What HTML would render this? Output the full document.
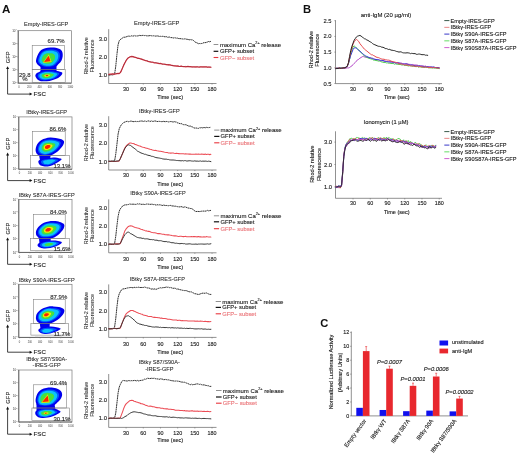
<!DOCTYPE html><html><head><meta charset="utf-8"><style>html,body{margin:0;padding:0;background:#fff;overflow:hidden}svg{display:block;will-change:transform}</style></head><body><svg width="520" height="455" viewBox="0 0 520 455" font-family='"Liberation Sans", sans-serif'>
<defs><filter id="bl" x="-10%" y="-10%" width="120%" height="120%"><feGaussianBlur stdDeviation="0.35"/></filter></defs>
<rect width="520" height="455" fill="#fff"/>
<text x="1.9" y="12.7" font-size="11.6" font-weight="bold" fill="#111">A</text>
<text x="156.6" y="25.47" font-size="5.75" text-anchor="middle" fill="#222" stroke="#222" stroke-width="0.05" >Empty-IRES-GFP</text>
<line x1="108.7" y1="29.2" x2="108.7" y2="83.5" stroke="#555" stroke-width="0.65" />
<line x1="108.7" y1="83.5" x2="216.5" y2="83.5" stroke="#555" stroke-width="0.65" />
<line x1="126.09" y1="83.5" x2="126.09" y2="84.6" stroke="#555" stroke-width="0.5" />
<text x="126.09" y="90.84" font-size="5.4" text-anchor="middle" fill="#1a1a1a" stroke="#1a1a1a" stroke-width="0.12" >30</text>
<line x1="143.28" y1="83.5" x2="143.28" y2="84.6" stroke="#555" stroke-width="0.5" />
<text x="143.28" y="90.84" font-size="5.4" text-anchor="middle" fill="#1a1a1a" stroke="#1a1a1a" stroke-width="0.12" >60</text>
<line x1="160.47" y1="83.5" x2="160.47" y2="84.6" stroke="#555" stroke-width="0.5" />
<text x="160.47" y="90.84" font-size="5.4" text-anchor="middle" fill="#1a1a1a" stroke="#1a1a1a" stroke-width="0.12" >90</text>
<line x1="177.66" y1="83.5" x2="177.66" y2="84.6" stroke="#555" stroke-width="0.5" />
<text x="177.66" y="90.84" font-size="5.4" text-anchor="middle" fill="#1a1a1a" stroke="#1a1a1a" stroke-width="0.12" >120</text>
<line x1="194.85" y1="83.5" x2="194.85" y2="84.6" stroke="#555" stroke-width="0.5" />
<text x="194.85" y="90.84" font-size="5.4" text-anchor="middle" fill="#1a1a1a" stroke="#1a1a1a" stroke-width="0.12" >150</text>
<line x1="212.04" y1="83.5" x2="212.04" y2="84.6" stroke="#555" stroke-width="0.5" />
<text x="212.04" y="90.84" font-size="5.4" text-anchor="middle" fill="#1a1a1a" stroke="#1a1a1a" stroke-width="0.12" >180</text>
<text x="107" y="77.02" font-size="5.9" text-anchor="end" fill="#1a1a1a" stroke="#1a1a1a" stroke-width="0.12" >1.0</text>
<text x="107" y="58.77" font-size="5.9" text-anchor="end" fill="#1a1a1a" stroke="#1a1a1a" stroke-width="0.12" >2.0</text>
<text x="107" y="40.52" font-size="5.9" text-anchor="end" fill="#1a1a1a" stroke="#1a1a1a" stroke-width="0.12" >3.0</text>
<text x="170.2" y="98.88" font-size="5.5" text-anchor="middle" fill="#1a1a1a" stroke="#1a1a1a" stroke-width="0.12" >Time (sec)</text>
<text transform="translate(86.2,55.95) rotate(-90)" y="1.98" font-size="5.5" text-anchor="middle" fill="#333" stroke="#333" stroke-width="0.08">Rhod-2 relative</text>
<text transform="translate(92.4,55.95) rotate(-90)" y="1.98" font-size="5.5" text-anchor="middle" fill="#333" stroke="#333" stroke-width="0.08">Fluorescence</text>
<polyline points="108.9,75.03 110.05,75.09 111.19,74.68 112.34,75.04 113.48,74.61 114.63,74 115.78,66.05 116.92,54.45 118.07,44.8 119.21,40.76 120.36,39.53 121.51,38.7 122.65,37.9 123.8,37.13 124.94,37.27 126.09,36.92 127.24,36.45 128.38,36.09 129.53,36.23 130.67,36.24 131.82,35.71 132.97,36.29 134.11,35.6 135.26,35.93 136.4,35.97 137.55,35.92 138.7,35.73 139.84,35.32 140.99,35.75 142.13,35.43 143.28,35.38 144.43,35.57 145.57,35.46 146.72,35.83 147.86,35.87 149.01,35.8 150.16,35.51 151.3,35.75 152.45,35.9 153.59,35.78 154.74,35.95 155.89,36.15 157.03,35.87 158.18,36.03 159.32,36.46 160.47,36.31 161.62,36.45 162.76,36.29 163.91,36.49 165.05,36.91 166.2,36.51 167.35,37.26 168.49,37.17 169.64,37.07 170.78,37.66 171.93,37.58 173.08,38.07 174.22,37.78 175.37,37.87 176.51,38.18 177.66,38.12 178.81,38.68 179.95,38.55 181.1,38.76 182.24,38.89 183.39,39.08 184.54,38.89 185.68,38.9 186.83,39.34 187.97,39.31 189.12,39.89 190.27,39.58 191.41,39.82 192.56,39.87 193.7,40.67 194.85,41.88 196,42.5 197.14,42.87 198.29,43.79 199.43,43.52 200.58,43.62 201.73,43.45 202.87,43.24 204.02,42.46 205.16,42.69 206.31,42.38 207.46,42.04 208.6,41.46 209.75,41.8 210.89,41.29" fill="none" stroke="#333" stroke-width="1.0" stroke-linejoin="round" stroke-linecap="round" stroke-dasharray="1.1 1.2" stroke-linecap="butt"/>
<polyline points="108.9,74.33 110.05,74.1 111.19,74.05 112.34,73.97 113.48,74.16 114.63,74.03 115.78,73.96 116.92,73.62 118.07,73.44 119.21,73.6 120.36,72.62 121.51,70.38 122.65,67.62 123.8,64.89 124.94,62.73 126.09,60.7 127.24,58.98 128.38,57.79 129.53,57.19 130.67,56.71 131.82,56.46 132.97,56.72 134.11,57.07 135.26,57.37 136.4,57.7 137.55,58.31 138.7,58.24 139.84,58.63 140.99,58.93 142.13,59.32 143.28,59.86 144.43,60.21 145.57,60.69 146.72,60.79 147.86,61.35 149.01,61.64 150.16,61.83 151.3,62.09 152.45,62.25 153.59,62.6 154.74,62.84 155.89,62.99 157.03,63.21 158.18,63.29 159.32,63.63 160.47,63.44 161.62,63.74 162.76,64.12 163.91,64.25 165.05,64.38 166.2,64.55 167.35,64.83 168.49,64.69 169.64,64.81 170.78,65.21 171.93,65.38 173.08,65.72 174.22,65.87 175.37,65.91 176.51,66.08 177.66,65.95 178.81,66.35 179.95,66.5 181.1,66.16 182.24,66.41 183.39,66.63 184.54,66.52 185.68,66.79 186.83,66.62 187.97,66.47 189.12,66.56 190.27,66.67 191.41,66.9 192.56,66.88 193.7,66.99 194.85,66.75 196,66.87 197.14,66.78 198.29,67 199.43,67.06 200.58,66.81 201.73,66.75 202.87,66.82 204.02,66.85 205.16,66.85 206.31,66.9 207.46,67.13 208.6,67.02 209.75,67.1 210.89,67.25" fill="none" stroke="#e24450" stroke-width="1.25" stroke-linejoin="round" stroke-linecap="round" />
<polyline points="108.9,74.56 110.05,74.36 111.19,74.3 112.34,74.04 113.48,73.86 114.63,74.01 115.78,73.71 116.92,73.57 118.07,73.44 119.21,73.51 120.36,72.6 121.51,70.38 122.65,67.63 123.8,65.01 124.94,62.72 126.09,60.42 127.24,58.61 128.38,57.76 129.53,57.07 130.67,56.6 131.82,56.84 132.97,56.74 134.11,56.9 135.26,57.29 136.4,57.67 137.55,58.12 138.7,58.56 139.84,58.62 140.99,59.17 142.13,59.32 143.28,59.6 144.43,60.21 145.57,60.56 146.72,60.65 147.86,61.06 149.01,61.59 150.16,61.87 151.3,62.1 152.45,62 153.59,62.27 154.74,62.78 155.89,62.69 157.03,62.82 158.18,63.16 159.32,63.49 160.47,63.59 161.62,63.95 162.76,64.18 163.91,63.94 165.05,64.25 166.2,64.48 167.35,64.48 168.49,64.87 169.64,64.86 170.78,65.06 171.93,65.5 173.08,65.64 174.22,65.78 175.37,65.95 176.51,65.94 177.66,66.2 178.81,66.23 179.95,66.45 181.1,66.18 182.24,66.48 183.39,66.5 184.54,66.5 185.68,66.41 186.83,66.67 187.97,66.5 189.12,66.72 190.27,66.75 191.41,66.78 192.56,67.03 193.7,66.87 194.85,67.01 196,67.11 197.14,66.77 198.29,67.06 199.43,66.95 200.58,66.85 201.73,66.94 202.87,67.05 204.02,66.97 205.16,66.97 206.31,66.88 207.46,67.19 208.6,67 209.75,67.14 210.89,67.14" fill="none" stroke="#8a1a28" stroke-width="0.6" stroke-linejoin="round" stroke-linecap="round" />
<line x1="213.6" y1="44.5" x2="218.3" y2="44.5" stroke="#444" stroke-width="0.6" />
<text x="220" y="46.66" font-size="6.0" text-anchor="start" fill="#1a1a1a" stroke="#1a1a1a" stroke-width="0.12" >maximum Ca<tspan font-size="3.8" dy="-2.6">2+</tspan><tspan dy="2.6"> release</tspan></text>
<line x1="213.6" y1="51.3" x2="218.3" y2="51.3" stroke="#111" stroke-width="1.2" />
<text x="220" y="53.39" font-size="5.8" text-anchor="start" fill="#1a1a1a" stroke="#1a1a1a" stroke-width="0.12" >GFP+ subset</text>
<line x1="213.6" y1="57.5" x2="218.3" y2="57.5" stroke="#e8363c" stroke-width="1.1" />
<text x="220" y="59.59" font-size="5.8" text-anchor="start" fill="#ea7478" stroke="#ea7478" stroke-width="0.12" >GFP&#8722; subset</text>
<text x="159.3" y="113.12" font-size="5.6" text-anchor="middle" fill="#222" stroke="#222" stroke-width="0.05" >IBtk&#947;-IRES-GFP</text>
<line x1="108.7" y1="116.2" x2="108.7" y2="170" stroke="#555" stroke-width="0.65" />
<line x1="108.7" y1="170" x2="216.5" y2="170" stroke="#555" stroke-width="0.65" />
<line x1="126.09" y1="170" x2="126.09" y2="171.1" stroke="#555" stroke-width="0.5" />
<text x="126.09" y="177.34" font-size="5.4" text-anchor="middle" fill="#1a1a1a" stroke="#1a1a1a" stroke-width="0.12" >30</text>
<line x1="143.28" y1="170" x2="143.28" y2="171.1" stroke="#555" stroke-width="0.5" />
<text x="143.28" y="177.34" font-size="5.4" text-anchor="middle" fill="#1a1a1a" stroke="#1a1a1a" stroke-width="0.12" >60</text>
<line x1="160.47" y1="170" x2="160.47" y2="171.1" stroke="#555" stroke-width="0.5" />
<text x="160.47" y="177.34" font-size="5.4" text-anchor="middle" fill="#1a1a1a" stroke="#1a1a1a" stroke-width="0.12" >90</text>
<line x1="177.66" y1="170" x2="177.66" y2="171.1" stroke="#555" stroke-width="0.5" />
<text x="177.66" y="177.34" font-size="5.4" text-anchor="middle" fill="#1a1a1a" stroke="#1a1a1a" stroke-width="0.12" >120</text>
<line x1="194.85" y1="170" x2="194.85" y2="171.1" stroke="#555" stroke-width="0.5" />
<text x="194.85" y="177.34" font-size="5.4" text-anchor="middle" fill="#1a1a1a" stroke="#1a1a1a" stroke-width="0.12" >150</text>
<line x1="212.04" y1="170" x2="212.04" y2="171.1" stroke="#555" stroke-width="0.5" />
<text x="212.04" y="177.34" font-size="5.4" text-anchor="middle" fill="#1a1a1a" stroke="#1a1a1a" stroke-width="0.12" >180</text>
<text x="107" y="163.52" font-size="5.9" text-anchor="end" fill="#1a1a1a" stroke="#1a1a1a" stroke-width="0.12" >1.0</text>
<text x="107" y="145.27" font-size="5.9" text-anchor="end" fill="#1a1a1a" stroke="#1a1a1a" stroke-width="0.12" >2.0</text>
<text x="107" y="127.02" font-size="5.9" text-anchor="end" fill="#1a1a1a" stroke="#1a1a1a" stroke-width="0.12" >3.0</text>
<text x="170.2" y="185.98" font-size="5.5" text-anchor="middle" fill="#1a1a1a" stroke="#1a1a1a" stroke-width="0.12" >Time (sec)</text>
<text transform="translate(86.2,142.7) rotate(-90)" y="1.98" font-size="5.5" text-anchor="middle" fill="#333" stroke="#333" stroke-width="0.08">Rhod-2 relative</text>
<text transform="translate(92.4,142.7) rotate(-90)" y="1.98" font-size="5.5" text-anchor="middle" fill="#333" stroke="#333" stroke-width="0.08">Fluorescence</text>
<polyline points="108.9,161.2 110.05,161.34 111.19,161.25 112.34,161.06 113.48,160.85 114.63,160.77 115.78,153.98 116.92,144.33 118.07,134.14 119.21,128.91 120.36,126.41 121.51,124.54 122.65,123.46 123.8,122.43 124.94,122.04 126.09,121.52 127.24,121.29 128.38,121.73 129.53,121.46 130.67,121.14 131.82,121.17 132.97,121.65 134.11,121.63 135.26,121.37 136.4,121.62 137.55,121.48 138.7,121.59 139.84,121.14 140.99,121.05 142.13,120.96 143.28,121.5 144.43,121.09 145.57,121.14 146.72,121.52 147.86,120.98 149.01,120.92 150.16,121.48 151.3,120.95 152.45,121.36 153.59,121.31 154.74,120.95 155.89,121.08 157.03,121.59 158.18,121.41 159.32,121.36 160.47,121.51 161.62,121.63 162.76,121.56 163.91,121.29 165.05,121.83 166.2,121.46 167.35,121.57 168.49,121.91 169.64,121.71 170.78,121.52 171.93,121.67 173.08,122.11 174.22,121.6 175.37,121.95 176.51,122.06 177.66,122.97 178.81,123.16 179.95,123.65 181.1,123.44 182.24,124.16 183.39,124.61 184.54,124.74 185.68,124.71 186.83,125.1 187.97,125.81 189.12,126.21 190.27,126.01 191.41,126.67 192.56,126.97 193.7,127.78 194.85,128.12 196,127.9 197.14,128.22 198.29,128.48 199.43,127.76 200.58,127.84 201.73,127.57 202.87,127.97 204.02,127.36 205.16,127.9 206.31,127.29 207.46,127.56 208.6,127.63 209.75,127.45 210.89,127.16" fill="none" stroke="#333" stroke-width="1.0" stroke-linejoin="round" stroke-linecap="round" stroke-dasharray="1.1 1.2" stroke-linecap="butt"/>
<polyline points="108.9,161.5 110.05,161.53 111.19,161.32 112.34,161.43 113.48,161.46 114.63,161.41 115.78,161.42 116.92,161.3 118.07,161.18 119.21,160.89 120.36,158.54 121.51,156.02 122.65,153.28 123.8,150.48 124.94,147.75 126.09,146.1 127.24,144.85 128.38,143.98 129.53,143.03 130.67,142.95 131.82,143.28 132.97,143.48 134.11,143.73 135.26,144.59 136.4,144.77 137.55,145.37 138.7,145.72 139.84,145.97 140.99,146.56 142.13,146.9 143.28,147.21 144.43,147.45 145.57,148.09 146.72,148.22 147.86,148.58 149.01,148.9 150.16,149.28 151.3,149.58 152.45,149.97 153.59,150.18 154.74,150.45 155.89,150.39 157.03,150.83 158.18,151.09 159.32,151.34 160.47,151.21 161.62,151.41 162.76,151.7 163.91,152.08 165.05,152.31 166.2,152.48 167.35,152.6 168.49,152.9 169.64,152.93 170.78,153.14 171.93,152.94 173.08,153.02 174.22,153.28 175.37,153.48 176.51,153.23 177.66,153.58 178.81,153.61 179.95,153.82 181.1,153.71 182.24,153.71 183.39,153.74 184.54,153.92 185.68,153.82 186.83,154.08 187.97,154 189.12,154.12 190.27,154.01 191.41,154.2 192.56,154.24 193.7,154.15 194.85,154.22 196,154.09 197.14,154.15 198.29,154.08 199.43,154.15 200.58,154.15 201.73,154.1 202.87,154.34 204.02,154.39 205.16,154.12 206.31,154.51 207.46,154.28 208.6,154.34 209.75,154.63 210.89,154.31" fill="none" stroke="#ec4c55" stroke-width="1.05" stroke-linejoin="round" stroke-linecap="round" />
<polyline points="108.9,161.23 110.05,161.31 111.19,161.23 112.34,161.18 113.48,161.45 114.63,161.25 115.78,161.22 116.92,161.02 118.07,160.96 119.21,160.66 120.36,158.6 121.51,155.75 122.65,153.31 123.8,150.54 124.94,148.26 126.09,146.64 127.24,145.49 128.38,144.85 129.53,145.2 130.67,145.5 131.82,146.47 132.97,147.36 134.11,148.2 135.26,149.02 136.4,150.04 137.55,151.18 138.7,151.68 139.84,152.35 140.99,152.94 142.13,153.36 143.28,153.68 144.43,154.28 145.57,154.31 146.72,154.83 147.86,155.23 149.01,155.48 150.16,155.64 151.3,156.24 152.45,156.38 153.59,156.64 154.74,157.19 155.89,157.54 157.03,157.76 158.18,157.9 159.32,158.07 160.47,158.34 161.62,158.51 162.76,158.93 163.91,159.07 165.05,159.18 166.2,159.11 167.35,159.45 168.49,159.48 169.64,159.86 170.78,159.98 171.93,160.03 173.08,159.99 174.22,160.12 175.37,160.25 176.51,160.53 177.66,160.53 178.81,160.63 179.95,160.68 181.1,160.88 182.24,160.58 183.39,160.92 184.54,160.61 185.68,160.66 186.83,161.08 187.97,160.91 189.12,160.78 190.27,160.74 191.41,160.99 192.56,161.09 193.7,161.14 194.85,160.84 196,161.19 197.14,161.05 198.29,161.27 199.43,161.13 200.58,160.97 201.73,161.35 202.87,161.07 204.02,161.23 205.16,161.09 206.31,161.2 207.46,161.43 208.6,161.16 209.75,161.37 210.89,161.6" fill="none" stroke="#2e2e2e" stroke-width="0.95" stroke-linejoin="round" stroke-linecap="round" />
<line x1="214.2" y1="130.1" x2="219.4" y2="130.1" stroke="#444" stroke-width="0.6" />
<text x="220.6" y="132.26" font-size="6.0" text-anchor="start" fill="#1a1a1a" stroke="#1a1a1a" stroke-width="0.12" >maximum Ca<tspan font-size="3.8" dy="-2.6">2+</tspan><tspan dy="2.6"> release</tspan></text>
<line x1="214.2" y1="136.4" x2="219.4" y2="136.4" stroke="#111" stroke-width="1.2" />
<text x="220.6" y="138.49" font-size="5.8" text-anchor="start" fill="#1a1a1a" stroke="#1a1a1a" stroke-width="0.12" >GFP+ subset</text>
<line x1="214.2" y1="142.8" x2="219.4" y2="142.8" stroke="#e8363c" stroke-width="1.1" />
<text x="220.6" y="144.89" font-size="5.8" text-anchor="start" fill="#ea7478" stroke="#ea7478" stroke-width="0.12" >GFP&#8722; subset</text>
<text x="157.9" y="195.4" font-size="5.55" text-anchor="middle" fill="#222" stroke="#222" stroke-width="0.05" >IBtk&#947; S90A-IRES-GFP</text>
<line x1="108.7" y1="199.4" x2="108.7" y2="252.8" stroke="#555" stroke-width="0.65" />
<line x1="108.7" y1="252.8" x2="216.5" y2="252.8" stroke="#555" stroke-width="0.65" />
<line x1="126.09" y1="252.8" x2="126.09" y2="253.9" stroke="#555" stroke-width="0.5" />
<text x="126.09" y="260.64" font-size="5.4" text-anchor="middle" fill="#1a1a1a" stroke="#1a1a1a" stroke-width="0.12" >30</text>
<line x1="143.28" y1="252.8" x2="143.28" y2="253.9" stroke="#555" stroke-width="0.5" />
<text x="143.28" y="260.64" font-size="5.4" text-anchor="middle" fill="#1a1a1a" stroke="#1a1a1a" stroke-width="0.12" >60</text>
<line x1="160.47" y1="252.8" x2="160.47" y2="253.9" stroke="#555" stroke-width="0.5" />
<text x="160.47" y="260.64" font-size="5.4" text-anchor="middle" fill="#1a1a1a" stroke="#1a1a1a" stroke-width="0.12" >90</text>
<line x1="177.66" y1="252.8" x2="177.66" y2="253.9" stroke="#555" stroke-width="0.5" />
<text x="177.66" y="260.64" font-size="5.4" text-anchor="middle" fill="#1a1a1a" stroke="#1a1a1a" stroke-width="0.12" >120</text>
<line x1="194.85" y1="252.8" x2="194.85" y2="253.9" stroke="#555" stroke-width="0.5" />
<text x="194.85" y="260.64" font-size="5.4" text-anchor="middle" fill="#1a1a1a" stroke="#1a1a1a" stroke-width="0.12" >150</text>
<line x1="212.04" y1="252.8" x2="212.04" y2="253.9" stroke="#555" stroke-width="0.5" />
<text x="212.04" y="260.64" font-size="5.4" text-anchor="middle" fill="#1a1a1a" stroke="#1a1a1a" stroke-width="0.12" >180</text>
<text x="107" y="246.32" font-size="5.9" text-anchor="end" fill="#1a1a1a" stroke="#1a1a1a" stroke-width="0.12" >1.0</text>
<text x="107" y="228.07" font-size="5.9" text-anchor="end" fill="#1a1a1a" stroke="#1a1a1a" stroke-width="0.12" >2.0</text>
<text x="107" y="209.82" font-size="5.9" text-anchor="end" fill="#1a1a1a" stroke="#1a1a1a" stroke-width="0.12" >3.0</text>
<text x="170.2" y="269.48" font-size="5.5" text-anchor="middle" fill="#1a1a1a" stroke="#1a1a1a" stroke-width="0.12" >Time (sec)</text>
<text transform="translate(86.2,225.7) rotate(-90)" y="1.98" font-size="5.5" text-anchor="middle" fill="#333" stroke="#333" stroke-width="0.08">Rhod-2 relative</text>
<text transform="translate(92.4,225.7) rotate(-90)" y="1.98" font-size="5.5" text-anchor="middle" fill="#333" stroke="#333" stroke-width="0.08">Fluorescence</text>
<polyline points="108.9,244.56 110.05,244.15 111.19,244.13 112.34,244.19 113.48,244.21 114.63,243.31 115.78,236.14 116.92,225.79 118.07,216.55 119.21,211.31 120.36,208.73 121.51,207.52 122.65,205.89 123.8,205.42 124.94,204.8 126.09,204.91 127.24,204.66 128.38,204.53 129.53,203.98 130.67,204.18 131.82,204.27 132.97,204.17 134.11,204.24 135.26,204.38 136.4,204.34 137.55,203.82 138.7,204.24 139.84,203.79 140.99,204.33 142.13,204.35 143.28,204.21 144.43,204.48 145.57,204.38 146.72,204 147.86,204.09 149.01,204.19 150.16,204.37 151.3,204.22 152.45,204.26 153.59,204.6 154.74,204.53 155.89,205.09 157.03,204.65 158.18,204.92 159.32,204.77 160.47,204.92 161.62,205.26 162.76,205.5 163.91,204.94 165.05,205.6 166.2,205.43 167.35,205.61 168.49,205.73 169.64,205.5 170.78,205.43 171.93,206.05 173.08,205.87 174.22,206.24 175.37,206.17 176.51,206.41 177.66,206.7 178.81,206.83 179.95,206.93 181.1,206.56 182.24,206.99 183.39,207.32 184.54,206.95 185.68,207.03 186.83,207.58 187.97,207.99 189.12,208.16 190.27,208.48 191.41,208.57 192.56,209.17 193.7,209.97 194.85,211.02 196,211.55 197.14,211.42 198.29,211.45 199.43,211.56 200.58,211.4 201.73,211.16 202.87,211.13 204.02,211.06 205.16,211.17 206.31,210.93 207.46,210.35 208.6,210.9 209.75,210.55 210.89,210.38" fill="none" stroke="#333" stroke-width="1.0" stroke-linejoin="round" stroke-linecap="round" stroke-dasharray="1.1 1.2" stroke-linecap="butt"/>
<polyline points="108.9,244.04 110.05,244.29 111.19,244.24 112.34,244.23 113.48,244.15 114.63,244.1 115.78,243.85 116.92,243.86 118.07,243.79 119.21,244.09 120.36,243.47 121.51,240.18 122.65,237.08 123.8,233.9 124.94,230.69 126.09,228.91 127.24,227.62 128.38,226.48 129.53,225.95 130.67,225.8 131.82,225.9 132.97,226.52 134.11,226.99 135.26,227.43 136.4,227.73 137.55,228.06 138.7,228.32 139.84,228.8 140.99,229.22 142.13,229.55 143.28,230.06 144.43,230.36 145.57,230.9 146.72,230.86 147.86,231.37 149.01,231.34 150.16,231.73 151.3,232.13 152.45,232.46 153.59,232.65 154.74,232.71 155.89,232.91 157.03,233.39 158.18,233.62 159.32,233.62 160.47,233.79 161.62,234.07 162.76,234.32 163.91,234.32 165.05,234.74 166.2,234.77 167.35,234.86 168.49,234.81 169.64,235.1 170.78,235.15 171.93,235.49 173.08,235.74 174.22,235.87 175.37,235.7 176.51,235.93 177.66,236.22 178.81,236.45 179.95,236.33 181.1,236.33 182.24,236.51 183.39,236.62 184.54,236.48 185.68,236.39 186.83,236.72 187.97,236.83 189.12,236.71 190.27,236.7 191.41,236.6 192.56,236.83 193.7,236.58 194.85,236.62 196,236.74 197.14,236.88 198.29,236.56 199.43,236.86 200.58,236.65 201.73,236.91 202.87,236.93 204.02,236.7 205.16,236.92 206.31,236.64 207.46,236.85 208.6,237 209.75,237 210.89,236.93" fill="none" stroke="#ec4c55" stroke-width="1.05" stroke-linejoin="round" stroke-linecap="round" />
<polyline points="108.9,244.13 110.05,243.97 111.19,244.3 112.34,244.17 113.48,244.23 114.63,243.87 115.78,244.2 116.92,244.2 118.07,244.14 119.21,243.93 120.36,243.25 121.51,241.03 122.65,238.62 123.8,236.48 124.94,234.55 126.09,233.32 127.24,232.36 128.38,232.11 129.53,232.71 130.67,233.71 131.82,234.09 132.97,234.83 134.11,235.52 135.26,236.23 136.4,236.93 137.55,237.49 138.7,237.69 139.84,237.92 140.99,237.89 142.13,238.46 143.28,238.28 144.43,238.78 145.57,238.87 146.72,238.81 147.86,238.95 149.01,239.26 150.16,239.56 151.3,239.52 152.45,239.71 153.59,239.64 154.74,240.12 155.89,240.22 157.03,240.15 158.18,240.69 159.32,240.69 160.47,240.67 161.62,240.86 162.76,241.34 163.91,241.51 165.05,241.66 166.2,241.46 167.35,241.94 168.49,241.93 169.64,242.07 170.78,242.53 171.93,242.77 173.08,242.67 174.22,242.99 175.37,243.29 176.51,243.19 177.66,243.45 178.81,243.55 179.95,243.74 181.1,243.49 182.24,243.49 183.39,243.68 184.54,243.61 185.68,244.07 186.83,244.04 187.97,243.99 189.12,243.82 190.27,243.87 191.41,244.15 192.56,244.24 193.7,244.19 194.85,244.18 196,244 197.14,244.34 198.29,244.07 199.43,244.08 200.58,244.03 201.73,244.03 202.87,244.07 204.02,244.16 205.16,244.12 206.31,244.06 207.46,243.84 208.6,244.11 209.75,244.02 210.89,243.74" fill="none" stroke="#2e2e2e" stroke-width="0.95" stroke-linejoin="round" stroke-linecap="round" />
<line x1="213.9" y1="215.8" x2="219.1" y2="215.8" stroke="#444" stroke-width="0.6" />
<text x="220.4" y="217.96" font-size="6.0" text-anchor="start" fill="#1a1a1a" stroke="#1a1a1a" stroke-width="0.12" >maximum Ca<tspan font-size="3.8" dy="-2.6">2+</tspan><tspan dy="2.6"> release</tspan></text>
<line x1="213.9" y1="221.8" x2="219.1" y2="221.8" stroke="#111" stroke-width="1.2" />
<text x="220.4" y="223.89" font-size="5.8" text-anchor="start" fill="#1a1a1a" stroke="#1a1a1a" stroke-width="0.12" >GFP+ subset</text>
<line x1="213.9" y1="228.7" x2="219.1" y2="228.7" stroke="#e8363c" stroke-width="1.1" />
<text x="220.4" y="230.79" font-size="5.8" text-anchor="start" fill="#ea7478" stroke="#ea7478" stroke-width="0.12" >GFP&#8722; subset</text>
<text x="157.3" y="281.18" font-size="5.5" text-anchor="middle" fill="#222" stroke="#222" stroke-width="0.05" >IBtk&#947; S87A-IRES-GFP</text>
<line x1="108.7" y1="284.4" x2="108.7" y2="337.4" stroke="#555" stroke-width="0.65" />
<line x1="108.7" y1="337.4" x2="216.5" y2="337.4" stroke="#555" stroke-width="0.65" />
<line x1="126.09" y1="337.4" x2="126.09" y2="338.5" stroke="#555" stroke-width="0.5" />
<text x="126.09" y="345.64" font-size="5.4" text-anchor="middle" fill="#1a1a1a" stroke="#1a1a1a" stroke-width="0.12" >30</text>
<line x1="143.28" y1="337.4" x2="143.28" y2="338.5" stroke="#555" stroke-width="0.5" />
<text x="143.28" y="345.64" font-size="5.4" text-anchor="middle" fill="#1a1a1a" stroke="#1a1a1a" stroke-width="0.12" >60</text>
<line x1="160.47" y1="337.4" x2="160.47" y2="338.5" stroke="#555" stroke-width="0.5" />
<text x="160.47" y="345.64" font-size="5.4" text-anchor="middle" fill="#1a1a1a" stroke="#1a1a1a" stroke-width="0.12" >90</text>
<line x1="177.66" y1="337.4" x2="177.66" y2="338.5" stroke="#555" stroke-width="0.5" />
<text x="177.66" y="345.64" font-size="5.4" text-anchor="middle" fill="#1a1a1a" stroke="#1a1a1a" stroke-width="0.12" >120</text>
<line x1="194.85" y1="337.4" x2="194.85" y2="338.5" stroke="#555" stroke-width="0.5" />
<text x="194.85" y="345.64" font-size="5.4" text-anchor="middle" fill="#1a1a1a" stroke="#1a1a1a" stroke-width="0.12" >150</text>
<line x1="212.04" y1="337.4" x2="212.04" y2="338.5" stroke="#555" stroke-width="0.5" />
<text x="212.04" y="345.64" font-size="5.4" text-anchor="middle" fill="#1a1a1a" stroke="#1a1a1a" stroke-width="0.12" >180</text>
<text x="107" y="330.82" font-size="5.9" text-anchor="end" fill="#1a1a1a" stroke="#1a1a1a" stroke-width="0.12" >1.0</text>
<text x="107" y="312.57" font-size="5.9" text-anchor="end" fill="#1a1a1a" stroke="#1a1a1a" stroke-width="0.12" >2.0</text>
<text x="107" y="294.32" font-size="5.9" text-anchor="end" fill="#1a1a1a" stroke="#1a1a1a" stroke-width="0.12" >3.0</text>
<text x="170.2" y="353.58" font-size="5.5" text-anchor="middle" fill="#1a1a1a" stroke="#1a1a1a" stroke-width="0.12" >Time (sec)</text>
<text transform="translate(86.2,310.5) rotate(-90)" y="1.98" font-size="5.5" text-anchor="middle" fill="#333" stroke="#333" stroke-width="0.08">Rhod-2 relative</text>
<text transform="translate(92.4,310.5) rotate(-90)" y="1.98" font-size="5.5" text-anchor="middle" fill="#333" stroke="#333" stroke-width="0.08">Fluorescence</text>
<polyline points="108.9,328.88 110.05,328.96 111.19,328.94 112.34,328.5 113.48,328.56 114.63,326.78 115.78,318.38 116.92,306.98 118.07,297.85 119.21,293.88 120.36,291.65 121.51,289.87 122.65,289.05 123.8,288.83 124.94,288.69 126.09,288.34 127.24,288.01 128.38,287.82 129.53,287.63 130.67,287.46 131.82,287.52 132.97,287.86 134.11,287.28 135.26,287.63 136.4,287.38 137.55,287.48 138.7,287.18 139.84,287.54 140.99,287.48 142.13,287.47 143.28,287.53 144.43,287.01 145.57,287.36 146.72,287.78 147.86,288.02 149.01,287.92 150.16,288.6 151.3,289.1 152.45,288.91 153.59,289.15 154.74,288.91 155.89,289.44 157.03,288.95 158.18,288.43 159.32,288.11 160.47,287.74 161.62,288.08 162.76,287.65 163.91,287.61 165.05,287.5 166.2,286.95 167.35,287.3 168.49,287.15 169.64,287.69 170.78,287.5 171.93,287.99 173.08,288.33 174.22,288.18 175.37,288.28 176.51,289.13 177.66,289.01 178.81,289.23 179.95,289.74 181.1,289.85 182.24,290.23 183.39,290.4 184.54,290.59 185.68,290.57 186.83,290.78 187.97,291.37 189.12,291.78 190.27,291.85 191.41,291.9 192.56,292.63 193.7,293.08 194.85,293.75 196,293.8 197.14,294.17 198.29,294.46 199.43,294.25 200.58,293.78 201.73,293.4 202.87,293.08 204.02,293.3 205.16,293.18 206.31,292.91 207.46,293.43 208.6,293.96 209.75,294.42 210.89,294.41" fill="none" stroke="#333" stroke-width="1.0" stroke-linejoin="round" stroke-linecap="round" stroke-dasharray="1.1 1.2" stroke-linecap="butt"/>
<polyline points="108.9,328.78 110.05,328.64 111.19,328.7 112.34,328.66 113.48,328.44 114.63,328.36 115.78,328.61 116.92,328.64 118.07,328.35 119.21,328.51 120.36,327.97 121.51,324.56 122.65,321.88 123.8,318.69 124.94,316.07 126.09,313.93 127.24,312.89 128.38,311.94 129.53,311.19 130.67,310.49 131.82,310.42 132.97,310.55 134.11,311.33 135.26,311.61 136.4,312.24 137.55,312.64 138.7,313.2 139.84,313.57 140.99,313.91 142.13,314.17 143.28,314.95 144.43,315.19 145.57,315.42 146.72,315.67 147.86,316.28 149.01,316.54 150.16,316.4 151.3,316.59 152.45,317 153.59,317.36 154.74,317.15 155.89,317.55 157.03,317.47 158.18,317.75 159.32,317.8 160.47,318.24 161.62,318.1 162.76,318.49 163.91,318.56 165.05,318.51 166.2,318.67 167.35,319.11 168.49,319.25 169.64,319.33 170.78,319.44 171.93,319.65 173.08,319.92 174.22,320.01 175.37,319.93 176.51,319.98 177.66,320.47 178.81,320.34 179.95,320.34 181.1,320.72 182.24,320.43 183.39,320.81 184.54,320.65 185.68,320.73 186.83,320.74 187.97,320.93 189.12,320.93 190.27,320.9 191.41,321.01 192.56,320.94 193.7,321.08 194.85,321.11 196,321.33 197.14,321.1 198.29,321.19 199.43,321.34 200.58,321.14 201.73,321.16 202.87,321.34 204.02,321.49 205.16,321.39 206.31,321.59 207.46,321.61 208.6,321.52 209.75,321.7 210.89,321.59" fill="none" stroke="#ec4c55" stroke-width="1.05" stroke-linejoin="round" stroke-linecap="round" />
<polyline points="108.9,328.7 110.05,328.87 111.19,328.58 112.34,328.81 113.48,328.5 114.63,328.46 115.78,328.54 116.92,328.7 118.07,328.45 119.21,328.43 120.36,327.53 121.51,324.83 122.65,321.85 123.8,319.28 124.94,317.37 126.09,316.25 127.24,315.91 128.38,315.69 129.53,316.49 130.67,317.09 131.82,317.93 132.97,319.16 134.11,319.97 135.26,321.04 136.4,322.47 137.55,323.18 138.7,323.53 139.84,324.2 140.99,324.23 142.13,324.81 143.28,324.85 144.43,325.39 145.57,325.48 146.72,325.53 147.86,326.09 149.01,326.29 150.16,326.4 151.3,326.68 152.45,326.96 153.59,327.01 154.74,327.12 155.89,326.86 157.03,327.06 158.18,327.04 159.32,327.43 160.47,327.22 161.62,327.58 162.76,327.45 163.91,327.46 165.05,327.63 166.2,327.46 167.35,327.64 168.49,327.68 169.64,327.59 170.78,327.97 171.93,327.62 173.08,327.82 174.22,327.97 175.37,327.83 176.51,328.1 177.66,327.83 178.81,328.05 179.95,328.19 181.1,328.06 182.24,328.25 183.39,328.41 184.54,328.2 185.68,328.55 186.83,328.26 187.97,328.55 189.12,328.42 190.27,328.31 191.41,328.52 192.56,328.53 193.7,328.72 194.85,328.9 196,328.92 197.14,328.91 198.29,328.75 199.43,328.87 200.58,328.87 201.73,328.74 202.87,329.11 204.02,329.11 205.16,328.96 206.31,329.28 207.46,329.33 208.6,329.21 209.75,329.36 210.89,329.29" fill="none" stroke="#2e2e2e" stroke-width="0.95" stroke-linejoin="round" stroke-linecap="round" />
<line x1="215.7" y1="301.5" x2="221" y2="301.5" stroke="#444" stroke-width="0.6" />
<text x="222.2" y="303.66" font-size="6.0" text-anchor="start" fill="#1a1a1a" stroke="#1a1a1a" stroke-width="0.12" >maximum Ca<tspan font-size="3.8" dy="-2.6">2+</tspan><tspan dy="2.6"> release</tspan></text>
<line x1="215.7" y1="307.4" x2="221" y2="307.4" stroke="#111" stroke-width="1.2" />
<text x="222.2" y="309.49" font-size="5.8" text-anchor="start" fill="#1a1a1a" stroke="#1a1a1a" stroke-width="0.12" >GFP+ subset</text>
<line x1="215.7" y1="313.8" x2="221" y2="313.8" stroke="#e8363c" stroke-width="1.1" />
<text x="222.2" y="315.89" font-size="5.8" text-anchor="start" fill="#ea7478" stroke="#ea7478" stroke-width="0.12" >GFP&#8722; subset</text>
<text x="159.3" y="364.12" font-size="5.6" text-anchor="middle" fill="#222" stroke="#222" stroke-width="0.05" >IBtk&#947; S87/S90A-</text>
<text x="159.3" y="370.82" font-size="5.6" text-anchor="middle" fill="#222" stroke="#222" stroke-width="0.05" >-IRES-GFP</text>
<line x1="108.7" y1="374" x2="108.7" y2="427.4" stroke="#555" stroke-width="0.65" />
<line x1="108.7" y1="427.4" x2="216.5" y2="427.4" stroke="#555" stroke-width="0.65" />
<line x1="126.09" y1="427.4" x2="126.09" y2="428.5" stroke="#555" stroke-width="0.5" />
<text x="126.09" y="434.54" font-size="5.4" text-anchor="middle" fill="#1a1a1a" stroke="#1a1a1a" stroke-width="0.12" >30</text>
<line x1="143.28" y1="427.4" x2="143.28" y2="428.5" stroke="#555" stroke-width="0.5" />
<text x="143.28" y="434.54" font-size="5.4" text-anchor="middle" fill="#1a1a1a" stroke="#1a1a1a" stroke-width="0.12" >60</text>
<line x1="160.47" y1="427.4" x2="160.47" y2="428.5" stroke="#555" stroke-width="0.5" />
<text x="160.47" y="434.54" font-size="5.4" text-anchor="middle" fill="#1a1a1a" stroke="#1a1a1a" stroke-width="0.12" >90</text>
<line x1="177.66" y1="427.4" x2="177.66" y2="428.5" stroke="#555" stroke-width="0.5" />
<text x="177.66" y="434.54" font-size="5.4" text-anchor="middle" fill="#1a1a1a" stroke="#1a1a1a" stroke-width="0.12" >120</text>
<line x1="194.85" y1="427.4" x2="194.85" y2="428.5" stroke="#555" stroke-width="0.5" />
<text x="194.85" y="434.54" font-size="5.4" text-anchor="middle" fill="#1a1a1a" stroke="#1a1a1a" stroke-width="0.12" >150</text>
<line x1="212.04" y1="427.4" x2="212.04" y2="428.5" stroke="#555" stroke-width="0.5" />
<text x="212.04" y="434.54" font-size="5.4" text-anchor="middle" fill="#1a1a1a" stroke="#1a1a1a" stroke-width="0.12" >180</text>
<text x="107" y="420.42" font-size="5.9" text-anchor="end" fill="#1a1a1a" stroke="#1a1a1a" stroke-width="0.12" >1.0</text>
<text x="107" y="402.17" font-size="5.9" text-anchor="end" fill="#1a1a1a" stroke="#1a1a1a" stroke-width="0.12" >2.0</text>
<text x="107" y="383.92" font-size="5.9" text-anchor="end" fill="#1a1a1a" stroke="#1a1a1a" stroke-width="0.12" >3.0</text>
<text x="170.2" y="441.68" font-size="5.5" text-anchor="middle" fill="#1a1a1a" stroke="#1a1a1a" stroke-width="0.12" >Time (sec)</text>
<text transform="translate(86.2,400.3) rotate(-90)" y="1.98" font-size="5.5" text-anchor="middle" fill="#333" stroke="#333" stroke-width="0.08">Rhod-2 relative</text>
<text transform="translate(92.4,400.3) rotate(-90)" y="1.98" font-size="5.5" text-anchor="middle" fill="#333" stroke="#333" stroke-width="0.08">Fluorescence</text>
<polyline points="108.9,418.5 110.05,418.18 111.19,418.14 112.34,418.37 113.48,417.98 114.63,417.95 115.78,412.93 116.92,403.14 118.07,393.02 119.21,387.15 120.36,384.41 121.51,382.04 122.65,380.62 123.8,380.5 124.94,380.78 126.09,380.88 127.24,381.06 128.38,380.6 129.53,380.66 130.67,380.81 131.82,380.6 132.97,380.75 134.11,380.39 135.26,380.53 136.4,380.89 137.55,380.41 138.7,381.02 139.84,380.54 140.99,380.4 142.13,380.23 143.28,380.02 144.43,379.14 145.57,379.36 146.72,378.67 147.86,378.15 149.01,378.61 150.16,378.55 151.3,378.28 152.45,378.4 153.59,378.36 154.74,378.32 155.89,378.87 157.03,378.88 158.18,379 159.32,379.31 160.47,378.82 161.62,379.03 162.76,379.2 163.91,379.85 165.05,379.36 166.2,379.55 167.35,379.89 168.49,379.82 169.64,380.18 170.78,380.49 171.93,380.74 173.08,380.81 174.22,381.12 175.37,381.07 176.51,380.95 177.66,381.17 178.81,381.25 179.95,381.55 181.1,382.07 182.24,382.04 183.39,382.31 184.54,382.26 185.68,382.71 186.83,383.23 187.97,383.58 189.12,384.2 190.27,384.72 191.41,384.19 192.56,384.75 193.7,384.49 194.85,384.44 196,384.01 197.14,383.85 198.29,384.02 199.43,384.42 200.58,384.15 201.73,384.74 202.87,385.02 204.02,384.77 205.16,385.23 206.31,385.46 207.46,385.75 208.6,385.79 209.75,386.41 210.89,386.37" fill="none" stroke="#333" stroke-width="1.0" stroke-linejoin="round" stroke-linecap="round" stroke-dasharray="1.1 1.2" stroke-linecap="butt"/>
<polyline points="108.9,418.21 110.05,418.13 111.19,418.3 112.34,418.16 113.48,418.22 114.63,418.32 115.78,418.35 116.92,418.15 118.07,418.36 119.21,417.96 120.36,417.68 121.51,414.59 122.65,411.6 123.8,408.19 124.94,405.64 126.09,403.86 127.24,402.79 128.38,401.81 129.53,400.79 130.67,400.41 131.82,400.36 132.97,400.57 134.11,401.24 135.26,401.48 136.4,402.06 137.55,402.28 138.7,402.66 139.84,403.03 140.99,403.8 142.13,403.85 143.28,404.23 144.43,404.6 145.57,405.32 146.72,405.6 147.86,405.92 149.01,406.2 150.16,406.09 151.3,406.33 152.45,406.63 153.59,406.75 154.74,407.03 155.89,407.38 157.03,407.64 158.18,407.82 159.32,407.7 160.47,408.11 161.62,408.23 162.76,408.34 163.91,408.68 165.05,408.73 166.2,408.88 167.35,408.85 168.49,409.16 169.64,409.34 170.78,409.22 171.93,409.57 173.08,409.56 174.22,409.81 175.37,410.2 176.51,410.15 177.66,410.25 178.81,410.21 179.95,410.48 181.1,410.4 182.24,410.54 183.39,410.75 184.54,410.53 185.68,410.92 186.83,410.66 187.97,410.99 189.12,411.11 190.27,411.07 191.41,410.87 192.56,410.82 193.7,411.29 194.85,411.11 196,411.15 197.14,411.05 198.29,411.36 199.43,411.25 200.58,411.35 201.73,411.17 202.87,411.45 204.02,411.18 205.16,411.49 206.31,411.55 207.46,411.36 208.6,411.48 209.75,411.68 210.89,411.47" fill="none" stroke="#ec4c55" stroke-width="1.05" stroke-linejoin="round" stroke-linecap="round" />
<polyline points="108.9,418.48 110.05,418.17 111.19,418.21 112.34,418.17 113.48,418.24 114.63,418.36 115.78,418.34 116.92,418.35 118.07,418.13 119.21,418.48 120.36,418.13 121.51,418.46 122.65,418.07 123.8,417.51 124.94,416.58 126.09,416.11 127.24,415.39 128.38,414.21 129.53,413.58 130.67,412.84 131.82,412.38 132.97,411.94 134.11,411.8 135.26,411.9 136.4,412.15 137.55,412.35 138.7,412.64 139.84,412.56 140.99,412.87 142.13,413.14 143.28,413.74 144.43,413.99 145.57,414.2 146.72,414.59 147.86,415.03 149.01,415.07 150.16,415.06 151.3,415.52 152.45,415.7 153.59,415.8 154.74,415.76 155.89,415.84 157.03,416.27 158.18,416.38 159.32,416.46 160.47,416.53 161.62,416.55 162.76,416.8 163.91,416.82 165.05,416.98 166.2,416.72 167.35,416.91 168.49,417.26 169.64,416.96 170.78,417.41 171.93,417.36 173.08,417.16 174.22,417.31 175.37,417.4 176.51,417.59 177.66,417.75 178.81,417.61 179.95,417.9 181.1,417.91 182.24,417.88 183.39,418.08 184.54,417.97 185.68,417.84 186.83,417.93 187.97,418.06 189.12,418.04 190.27,418.16 191.41,418.34 192.56,418.18 193.7,418.3 194.85,418.2 196,418.16 197.14,418.41 198.29,418.38 199.43,418.34 200.58,418.52 201.73,418.64 202.87,418.46 204.02,418.43 205.16,418.51 206.31,418.58 207.46,418.56 208.6,418.67 209.75,418.73 210.89,418.85" fill="none" stroke="#2e2e2e" stroke-width="0.95" stroke-linejoin="round" stroke-linecap="round" />
<line x1="216" y1="390.5" x2="221.6" y2="390.5" stroke="#444" stroke-width="0.6" />
<text x="222.8" y="392.66" font-size="6.0" text-anchor="start" fill="#1a1a1a" stroke="#1a1a1a" stroke-width="0.12" >maximum Ca<tspan font-size="3.8" dy="-2.6">2+</tspan><tspan dy="2.6"> release</tspan></text>
<line x1="216" y1="397" x2="221.6" y2="397" stroke="#111" stroke-width="1.2" />
<text x="222.8" y="399.09" font-size="5.8" text-anchor="start" fill="#1a1a1a" stroke="#1a1a1a" stroke-width="0.12" >GFP+ subset</text>
<line x1="216" y1="403.2" x2="221.6" y2="403.2" stroke="#e8363c" stroke-width="1.1" />
<text x="222.8" y="405.29" font-size="5.8" text-anchor="start" fill="#ea7478" stroke="#ea7478" stroke-width="0.12" >GFP&#8722; subset</text>
<text x="46.1" y="25.52" font-size="5.6" text-anchor="middle" fill="#222" stroke="#222" stroke-width="0.05" >Empty-IRES-GFP</text>
<rect x="18.2" y="30.7" width="53.2" height="52.4" fill="none" stroke="#7a7a7a" stroke-width="0.7"/>
<path d="M18.2 30.7 V83.1 H71.4" fill="none" stroke="#505050" stroke-width="0.75"/>
<line x1="17.2" y1="83.1" x2="18.2" y2="83.1" stroke="#666" stroke-width="0.45" />
<text x="16.7" y="84.2" font-size="3.0" fill="#333" text-anchor="end">10<tspan font-size="2.1" dy="-1.4">0</tspan></text>
<line x1="17.2" y1="70" x2="18.2" y2="70" stroke="#666" stroke-width="0.45" />
<text x="16.7" y="71.1" font-size="3.0" fill="#333" text-anchor="end">10<tspan font-size="2.1" dy="-1.4">1</tspan></text>
<line x1="17.2" y1="56.9" x2="18.2" y2="56.9" stroke="#666" stroke-width="0.45" />
<text x="16.7" y="58" font-size="3.0" fill="#333" text-anchor="end">10<tspan font-size="2.1" dy="-1.4">2</tspan></text>
<line x1="17.2" y1="43.8" x2="18.2" y2="43.8" stroke="#666" stroke-width="0.45" />
<text x="16.7" y="44.9" font-size="3.0" fill="#333" text-anchor="end">10<tspan font-size="2.1" dy="-1.4">3</tspan></text>
<line x1="17.2" y1="30.7" x2="18.2" y2="30.7" stroke="#666" stroke-width="0.45" />
<text x="16.7" y="31.8" font-size="3.0" fill="#333" text-anchor="end">10<tspan font-size="2.1" dy="-1.4">4</tspan></text>
<line x1="19" y1="83.1" x2="19" y2="84.1" stroke="#666" stroke-width="0.45" />
<text x="19" y="88.3" font-size="2.6" fill="#444" text-anchor="middle">0</text>
<line x1="29.28" y1="83.1" x2="29.28" y2="84.1" stroke="#666" stroke-width="0.45" />
<text x="29.28" y="88.3" font-size="2.6" fill="#444" text-anchor="middle">200</text>
<line x1="39.56" y1="83.1" x2="39.56" y2="84.1" stroke="#666" stroke-width="0.45" />
<text x="39.56" y="88.3" font-size="2.6" fill="#444" text-anchor="middle">400</text>
<line x1="49.84" y1="83.1" x2="49.84" y2="84.1" stroke="#666" stroke-width="0.45" />
<text x="49.84" y="88.3" font-size="2.6" fill="#444" text-anchor="middle">600</text>
<line x1="60.12" y1="83.1" x2="60.12" y2="84.1" stroke="#666" stroke-width="0.45" />
<text x="60.12" y="88.3" font-size="2.6" fill="#444" text-anchor="middle">800</text>
<line x1="70.4" y1="83.1" x2="70.4" y2="84.1" stroke="#666" stroke-width="0.45" />
<text x="70.4" y="88.3" font-size="2.6" fill="#444" text-anchor="middle">1000</text>
<g filter="url(#bl)">
<path d="M40.5 65 L56.5 65 L56.5 72 L40.5 72Z" fill="#0000ee"/>
<path d="M36 61.6 C35.88 60.38 36.37 58.6 36.8 57.2 C37.23 55.8 37.87 54.38 38.6 53.2 C39.33 52.02 40.1 50.93 41.2 50.1 C42.3 49.27 43.67 48.63 45.2 48.2 C46.73 47.77 48.65 47.58 50.4 47.5 C52.15 47.42 54.08 47.4 55.7 47.7 C57.32 48 59 48.6 60.1 49.3 C61.2 50 61.87 50.73 62.3 51.9 C62.73 53.07 62.85 54.83 62.7 56.3 C62.55 57.77 62.05 59.45 61.4 60.7 C60.75 61.95 59.78 62.75 58.8 63.8 C57.82 64.85 56.97 66.22 55.5 67 C54.03 67.78 51.92 68.3 50 68.5 C48.08 68.7 45.67 68.53 44 68.2 C42.33 67.87 41.08 67.12 40 66.5 C38.92 65.88 38.17 65.32 37.5 64.5 C36.83 63.68 36.12 62.82 36 61.6Z" fill="#0000ee"/>
<path d="M38.03 61.13 C37.94 60.13 38.33 58.67 38.69 57.52 C39.05 56.38 39.56 55.21 40.17 54.24 C40.77 53.27 41.4 52.39 42.3 51.7 C43.2 51.02 44.32 50.5 45.58 50.14 C46.84 49.79 48.41 49.64 49.84 49.57 C51.28 49.5 52.86 49.49 54.19 49.73 C55.51 49.98 56.89 50.47 57.8 51.05 C58.7 51.62 59.24 52.22 59.6 53.18 C59.96 54.13 60.05 55.58 59.93 56.79 C59.8 57.99 59.39 59.37 58.86 60.39 C58.33 61.42 57.54 62.08 56.73 62.94 C55.92 63.8 55.23 64.92 54.02 65.56 C52.82 66.2 51.09 66.63 49.51 66.79 C47.94 66.95 45.96 66.82 44.59 66.54 C43.23 66.27 42.2 65.66 41.31 65.15 C40.43 64.64 39.81 64.18 39.26 63.51 C38.72 62.84 38.13 62.13 38.03 61.13Z" fill="#0058ff"/>
<path d="M39.28 60.85 C39.19 59.98 39.54 58.72 39.84 57.72 C40.15 56.73 40.6 55.72 41.12 54.88 C41.64 54.04 42.19 53.27 42.97 52.68 C43.75 52.09 44.72 51.64 45.81 51.33 C46.9 51.02 48.26 50.89 49.5 50.84 C50.74 50.78 52.12 50.76 53.26 50.98 C54.41 51.19 55.61 51.62 56.39 52.11 C57.17 52.61 57.64 53.13 57.95 53.96 C58.26 54.79 58.34 56.04 58.23 57.08 C58.13 58.12 57.77 59.32 57.31 60.21 C56.85 61.09 56.16 61.66 55.46 62.41 C54.77 63.15 54.16 64.12 53.12 64.68 C52.08 65.24 50.58 65.6 49.22 65.75 C47.86 65.89 46.14 65.77 44.96 65.53 C43.77 65.3 42.89 64.76 42.12 64.33 C41.35 63.89 40.82 63.48 40.34 62.91 C39.87 62.33 39.36 61.71 39.28 60.85Z" fill="#0ac4f8"/>
<path d="M41.65 60.3 C41.59 59.69 41.83 58.8 42.05 58.1 C42.27 57.4 42.58 56.69 42.95 56.1 C43.32 55.51 43.7 54.97 44.25 54.55 C44.8 54.13 45.48 53.82 46.25 53.6 C47.02 53.38 47.97 53.29 48.85 53.25 C49.72 53.21 50.69 53.2 51.5 53.35 C52.31 53.5 53.15 53.8 53.7 54.15 C54.25 54.5 54.58 54.87 54.8 55.45 C55.02 56.03 55.08 56.92 55 57.65 C54.92 58.38 54.67 59.23 54.35 59.85 C54.02 60.48 53.54 60.88 53.05 61.4 C52.56 61.92 52.13 62.61 51.4 63 C50.67 63.39 49.61 63.65 48.65 63.75 C47.69 63.85 46.48 63.77 45.65 63.6 C44.82 63.43 44.19 63.06 43.65 62.75 C43.11 62.44 42.73 62.16 42.4 61.75 C42.07 61.34 41.71 60.91 41.65 60.3Z" fill="#44e040"/>
<path d="M36 73.9 C36.58 73.17 38 72.62 39 72.1 C40 71.58 40.67 71.1 42 70.8 C43.33 70.5 45.33 70.37 47 70.3 C48.67 70.23 50.48 70.32 52 70.4 C53.52 70.48 54.6 70.52 56.1 70.8 C57.6 71.08 59.97 71.67 61 72.1 C62.03 72.53 62.45 72.67 62.3 73.4 C62.15 74.13 61.2 75.55 60.1 76.5 C59 77.45 57.45 78.37 55.7 79.1 C53.95 79.83 51.8 80.53 49.6 80.9 C47.4 81.27 44.42 81.45 42.5 81.3 C40.58 81.15 39.27 80.8 38.1 80 C36.93 79.2 35.85 77.52 35.5 76.5 C35.15 75.48 35.42 74.63 36 73.9Z" fill="#0000ee"/>
<path d="M38.16 74.24 C38.63 73.65 39.76 73.21 40.56 72.8 C41.36 72.39 41.89 72 42.96 71.76 C44.03 71.52 45.63 71.41 46.96 71.36 C48.29 71.31 49.75 71.37 50.96 71.44 C52.17 71.51 53.04 71.53 54.24 71.76 C55.44 71.99 57.33 72.45 58.16 72.8 C58.99 73.15 59.32 73.25 59.2 73.84 C59.08 74.43 58.32 75.56 57.44 76.32 C56.56 77.08 55.32 77.81 53.92 78.4 C52.52 78.99 50.8 79.55 49.04 79.84 C47.28 80.13 44.89 80.28 43.36 80.16 C41.83 80.04 40.77 79.76 39.84 79.12 C38.91 78.48 38.04 77.13 37.76 76.32 C37.48 75.51 37.69 74.83 38.16 74.24Z" fill="#0058ff"/>
<path d="M39.67 74.48 C40.06 73.99 40.99 73.63 41.65 73.29 C42.31 72.95 42.75 72.63 43.63 72.43 C44.51 72.23 45.83 72.15 46.93 72.1 C48.03 72.06 49.23 72.11 50.23 72.17 C51.23 72.22 51.95 72.25 52.94 72.43 C53.93 72.62 55.49 73 56.17 73.29 C56.85 73.58 57.13 73.66 57.03 74.15 C56.93 74.63 56.3 75.57 55.58 76.19 C54.85 76.82 53.83 77.43 52.67 77.91 C51.52 78.39 50.1 78.86 48.65 79.1 C47.2 79.34 45.23 79.46 43.96 79.36 C42.7 79.26 41.83 79.03 41.06 78.5 C40.29 77.98 39.57 76.87 39.34 76.19 C39.11 75.52 39.29 74.96 39.67 74.48Z" fill="#0ac4f8"/>
<path d="M41.94 74.83 C42.2 74.5 42.84 74.26 43.29 74.02 C43.74 73.79 44.04 73.58 44.64 73.44 C45.24 73.3 46.14 73.24 46.89 73.21 C47.64 73.18 48.46 73.22 49.14 73.26 C49.82 73.3 50.31 73.31 50.98 73.44 C51.66 73.57 52.72 73.83 53.19 74.02 C53.66 74.22 53.84 74.28 53.77 74.61 C53.71 74.94 53.28 75.58 52.78 76 C52.29 76.43 51.59 76.84 50.8 77.17 C50.02 77.5 49.05 77.82 48.06 77.98 C47.07 78.15 45.73 78.23 44.86 78.16 C44 78.1 43.41 77.94 42.88 77.58 C42.36 77.22 41.87 76.46 41.71 76 C41.56 75.55 41.68 75.16 41.94 74.83Z" fill="#44e040"/>
<path d="M44.42 75.23 C44.55 75.06 44.86 74.94 45.08 74.83 C45.3 74.72 45.45 74.61 45.74 74.54 C46.04 74.48 46.48 74.45 46.84 74.43 C47.21 74.42 47.61 74.44 47.94 74.46 C48.28 74.47 48.52 74.48 48.85 74.54 C49.18 74.61 49.7 74.73 49.92 74.83 C50.15 74.93 50.24 74.95 50.21 75.12 C50.18 75.28 49.97 75.59 49.73 75.8 C49.48 76.01 49.14 76.21 48.76 76.37 C48.37 76.53 47.9 76.69 47.42 76.77 C46.93 76.85 46.28 76.89 45.85 76.85 C45.43 76.82 45.14 76.74 44.89 76.57 C44.63 76.39 44.39 76.02 44.31 75.8 C44.24 75.57 44.3 75.39 44.42 75.23Z" fill="#f4ec00"/>
<path d="M45.72 75.43 C45.78 75.36 45.92 75.3 46.02 75.25 C46.12 75.2 46.19 75.15 46.32 75.12 C46.45 75.09 46.65 75.08 46.82 75.07 C46.99 75.06 47.17 75.07 47.32 75.08 C47.47 75.09 47.58 75.09 47.73 75.12 C47.88 75.15 48.12 75.21 48.22 75.25 C48.32 75.29 48.36 75.31 48.35 75.38 C48.33 75.45 48.24 75.59 48.13 75.69 C48.02 75.78 47.86 75.88 47.69 75.95 C47.52 76.02 47.3 76.09 47.08 76.13 C46.86 76.17 46.56 76.18 46.37 76.17 C46.18 76.15 46.05 76.12 45.93 76.04 C45.81 75.96 45.7 75.79 45.67 75.69 C45.63 75.59 45.66 75.5 45.72 75.43Z" fill="#fa2000"/>
<path d="M48.8 54.6 L42.9 62.7 L51.6 61.9 Z" fill="#f4ec00"/><path d="M48.6 55.8 L44.0 61.9 L50.6 61.2 Z" fill="#fa2000"/>
</g>
<line x1="35" y1="82.5" x2="62" y2="82.5" stroke="#aaa" stroke-width="0.6" stroke-dasharray="0.6 0.6"/>
<rect x="32.2" y="45.4" width="32.4" height="24.2" fill="none" stroke="#777" stroke-width="0.55"/>
<rect x="32.2" y="69.6" width="33" height="13" fill="none" stroke="#777" stroke-width="0.55"/>
<text x="56.1" y="42.56" font-size="6.0" text-anchor="middle" fill="#2a2a2a" stroke="#2a2a2a" stroke-width="0.12" >69.7%</text>
<text x="24.8" y="76.56" font-size="6.0" text-anchor="middle" fill="#2a2a2a" stroke="#2a2a2a" stroke-width="0.12" >29.8</text>
<text x="24.8" y="81.36" font-size="6.0" text-anchor="middle" fill="#2a2a2a" stroke="#2a2a2a" stroke-width="0.12" >%</text>
<path d="M7.6 94.1 V68.3 M7.6 94.1 H30.5" stroke="#111" stroke-width="0.8" fill="none"/>
<path d="M6.1 69.1 L7.6 66.3 L9.1 69.1 Z" fill="#111"/>
<path d="M29.6 92.6 L32.4 94.1 L29.6 95.6 Z" fill="#111"/>
<text x="33.6" y="96.33" font-size="6.2" text-anchor="start" fill="#1a1a1a" stroke="#1a1a1a" stroke-width="0.12" >FSC</text>
<text transform="translate(7.7,57.4) rotate(-90)" y="2.09" font-size="5.8" text-anchor="middle" fill="#1a1a1a" stroke="#1a1a1a" stroke-width="0.08">GFP</text>
<text x="46.7" y="113.72" font-size="5.6" text-anchor="middle" fill="#222" stroke="#222" stroke-width="0.05" >IBtk&#947;-IRES-GFP</text>
<rect x="18.8" y="116.9" width="53.2" height="52.3" fill="none" stroke="#7a7a7a" stroke-width="0.7"/>
<path d="M18.8 116.9 V169.2 H72" fill="none" stroke="#505050" stroke-width="0.75"/>
<line x1="17.8" y1="169.2" x2="18.8" y2="169.2" stroke="#666" stroke-width="0.45" />
<text x="17.3" y="170.3" font-size="3.0" fill="#333" text-anchor="end">10<tspan font-size="2.1" dy="-1.4">0</tspan></text>
<line x1="17.8" y1="156.12" x2="18.8" y2="156.12" stroke="#666" stroke-width="0.45" />
<text x="17.3" y="157.22" font-size="3.0" fill="#333" text-anchor="end">10<tspan font-size="2.1" dy="-1.4">1</tspan></text>
<line x1="17.8" y1="143.05" x2="18.8" y2="143.05" stroke="#666" stroke-width="0.45" />
<text x="17.3" y="144.15" font-size="3.0" fill="#333" text-anchor="end">10<tspan font-size="2.1" dy="-1.4">2</tspan></text>
<line x1="17.8" y1="129.97" x2="18.8" y2="129.97" stroke="#666" stroke-width="0.45" />
<text x="17.3" y="131.07" font-size="3.0" fill="#333" text-anchor="end">10<tspan font-size="2.1" dy="-1.4">3</tspan></text>
<line x1="17.8" y1="116.9" x2="18.8" y2="116.9" stroke="#666" stroke-width="0.45" />
<text x="17.3" y="118" font-size="3.0" fill="#333" text-anchor="end">10<tspan font-size="2.1" dy="-1.4">4</tspan></text>
<line x1="19.6" y1="169.2" x2="19.6" y2="170.2" stroke="#666" stroke-width="0.45" />
<text x="19.6" y="174.4" font-size="2.6" fill="#444" text-anchor="middle">0</text>
<line x1="29.88" y1="169.2" x2="29.88" y2="170.2" stroke="#666" stroke-width="0.45" />
<text x="29.88" y="174.4" font-size="2.6" fill="#444" text-anchor="middle">200</text>
<line x1="40.16" y1="169.2" x2="40.16" y2="170.2" stroke="#666" stroke-width="0.45" />
<text x="40.16" y="174.4" font-size="2.6" fill="#444" text-anchor="middle">400</text>
<line x1="50.44" y1="169.2" x2="50.44" y2="170.2" stroke="#666" stroke-width="0.45" />
<text x="50.44" y="174.4" font-size="2.6" fill="#444" text-anchor="middle">600</text>
<line x1="60.72" y1="169.2" x2="60.72" y2="170.2" stroke="#666" stroke-width="0.45" />
<text x="60.72" y="174.4" font-size="2.6" fill="#444" text-anchor="middle">800</text>
<line x1="71" y1="169.2" x2="71" y2="170.2" stroke="#666" stroke-width="0.45" />
<text x="71" y="174.4" font-size="2.6" fill="#444" text-anchor="middle">1000</text>
<g filter="url(#bl)">
<path d="M38.5 152.5 L51 153.5 L50 159 L40 160.5Z" fill="#0000ee"/>
<path d="M35.6 149.4 C35.67 148.35 35.95 147.02 36.4 145.9 C36.85 144.78 37.45 143.7 38.3 142.7 C39.15 141.7 40.32 140.62 41.5 139.9 C42.68 139.18 43.95 138.78 45.4 138.4 C46.85 138.02 48.48 137.67 50.2 137.6 C51.92 137.53 53.98 137.75 55.7 138 C57.42 138.25 59.18 138.65 60.5 139.1 C61.82 139.55 63.02 140.1 63.6 140.7 C64.18 141.3 64.12 141.9 64 142.7 C63.88 143.5 63.48 144.52 62.9 145.5 C62.32 146.48 61.43 147.55 60.5 148.6 C59.57 149.65 58.48 150.87 57.3 151.8 C56.12 152.73 54.72 153.53 53.4 154.2 C52.08 154.87 50.85 155.35 49.4 155.8 C47.95 156.25 46.15 156.78 44.7 156.9 C43.25 157.02 41.9 156.88 40.7 156.5 C39.5 156.12 38.28 155.32 37.5 154.6 C36.72 153.88 36.32 153.07 36 152.2 C35.68 151.33 35.53 150.45 35.6 149.4Z" fill="#0000ee"/>
<path d="M37.94 148.9 C37.99 148.06 38.22 146.99 38.58 146.1 C38.94 145.21 39.42 144.34 40.1 143.54 C40.78 142.74 41.71 141.87 42.66 141.3 C43.61 140.73 44.62 140.41 45.78 140.1 C46.94 139.79 48.25 139.51 49.62 139.46 C50.99 139.41 52.65 139.58 54.02 139.78 C55.39 139.98 56.81 140.3 57.86 140.66 C58.91 141.02 59.87 141.46 60.34 141.94 C60.81 142.42 60.75 142.9 60.66 143.54 C60.57 144.18 60.25 144.99 59.78 145.78 C59.31 146.57 58.61 147.42 57.86 148.26 C57.11 149.1 56.25 150.07 55.3 150.82 C54.35 151.57 53.23 152.21 52.18 152.74 C51.13 153.27 50.14 153.66 48.98 154.02 C47.82 154.38 46.38 154.81 45.22 154.9 C44.06 154.99 42.98 154.89 42.02 154.58 C41.06 154.27 40.09 153.63 39.46 153.06 C38.83 152.49 38.51 151.83 38.26 151.14 C38.01 150.45 37.89 149.74 37.94 148.9Z" fill="#0058ff"/>
<path d="M39.11 148.65 C39.16 147.92 39.36 146.98 39.67 146.2 C39.98 145.42 40.41 144.66 41 143.96 C41.59 143.26 42.41 142.5 43.24 142 C44.07 141.5 44.95 141.22 45.97 140.95 C46.98 140.68 48.13 140.44 49.33 140.39 C50.53 140.34 51.98 140.5 53.18 140.67 C54.38 140.85 55.62 141.12 56.54 141.44 C57.46 141.75 58.3 142.14 58.71 142.56 C59.12 142.98 59.07 143.4 58.99 143.96 C58.91 144.52 58.63 145.23 58.22 145.92 C57.81 146.61 57.19 147.36 56.54 148.09 C55.89 148.82 55.13 149.68 54.3 150.33 C53.47 150.98 52.49 151.54 51.57 152.01 C50.65 152.48 49.78 152.81 48.77 153.13 C47.75 153.44 46.5 153.82 45.48 153.9 C44.47 153.98 43.52 153.89 42.68 153.62 C41.84 153.35 40.99 152.79 40.44 152.29 C39.89 151.79 39.61 151.22 39.39 150.61 C39.17 150 39.06 149.38 39.11 148.65Z" fill="#0ac4f8"/>
<path d="M41.68 148.1 C41.72 147.6 41.85 146.96 42.07 146.42 C42.28 145.88 42.57 145.36 42.98 144.88 C43.39 144.4 43.95 143.88 44.52 143.54 C45.08 143.2 45.69 143 46.39 142.82 C47.08 142.64 47.87 142.47 48.69 142.44 C49.52 142.4 50.51 142.51 51.33 142.63 C52.16 142.75 53 142.94 53.64 143.16 C54.27 143.37 54.84 143.64 55.12 143.92 C55.4 144.21 55.37 144.5 55.32 144.88 C55.26 145.27 55.07 145.76 54.79 146.23 C54.51 146.7 54.08 147.21 53.64 147.72 C53.19 148.22 52.67 148.8 52.1 149.25 C51.53 149.7 50.86 150.08 50.23 150.4 C49.6 150.72 49 150.96 48.31 151.17 C47.61 151.39 46.75 151.64 46.05 151.7 C45.36 151.76 44.71 151.69 44.13 151.51 C43.56 151.32 42.97 150.94 42.6 150.6 C42.22 150.25 42.03 149.86 41.88 149.44 C41.72 149.03 41.65 148.6 41.68 148.1Z" fill="#44e040"/>
<path d="M43.67 147.68 C43.69 147.35 43.78 146.94 43.92 146.59 C44.06 146.24 44.25 145.91 44.51 145.6 C44.77 145.29 45.14 144.95 45.5 144.73 C45.87 144.51 46.26 144.38 46.71 144.27 C47.16 144.15 47.67 144.04 48.2 144.02 C48.73 144 49.37 144.06 49.9 144.14 C50.44 144.22 50.98 144.34 51.39 144.48 C51.8 144.62 52.17 144.79 52.35 144.98 C52.53 145.16 52.51 145.35 52.48 145.6 C52.44 145.85 52.32 146.16 52.14 146.47 C51.96 146.77 51.68 147.1 51.39 147.43 C51.1 147.75 50.77 148.13 50.4 148.42 C50.03 148.71 49.6 148.96 49.19 149.16 C48.78 149.37 48.4 149.52 47.95 149.66 C47.5 149.8 46.94 149.96 46.49 150 C46.04 150.04 45.63 149.99 45.25 149.88 C44.88 149.76 44.5 149.51 44.26 149.29 C44.02 149.06 43.9 148.81 43.8 148.54 C43.7 148.27 43.65 148 43.67 147.68Z" fill="#f4ec00"/>
<path d="M44.96 147.4 C44.97 147.19 45.03 146.92 45.12 146.7 C45.21 146.48 45.33 146.26 45.5 146.06 C45.67 145.86 45.9 145.64 46.14 145.5 C46.38 145.36 46.63 145.28 46.92 145.2 C47.21 145.12 47.54 145.05 47.88 145.04 C48.22 145.03 48.64 145.07 48.98 145.12 C49.32 145.17 49.68 145.25 49.94 145.34 C50.2 145.43 50.44 145.54 50.56 145.66 C50.68 145.78 50.66 145.9 50.64 146.06 C50.62 146.22 50.54 146.42 50.42 146.62 C50.3 146.82 50.13 147.03 49.94 147.24 C49.75 147.45 49.54 147.69 49.3 147.88 C49.06 148.07 48.78 148.23 48.52 148.36 C48.26 148.49 48.01 148.59 47.72 148.68 C47.43 148.77 47.07 148.88 46.78 148.9 C46.49 148.92 46.22 148.9 45.98 148.82 C45.74 148.74 45.5 148.58 45.34 148.44 C45.18 148.3 45.1 148.13 45.04 147.96 C44.98 147.79 44.95 147.61 44.96 147.4Z" fill="#fa2000"/>
<path d="M38.3 161.7 C38.35 162.52 39.03 164.15 39.9 164.9 C40.77 165.65 42.18 165.95 43.5 166.2 C44.82 166.45 46.3 166.57 47.8 166.4 C49.3 166.23 50.97 165.8 52.5 165.2 C54.03 164.6 55.47 163.78 57 162.8 C58.53 161.82 61.37 160.07 61.7 159.3 C62.03 158.53 60.12 158.48 59 158.2 C57.88 157.92 56.2 157.68 55 157.6 C53.8 157.52 53.22 157.6 51.8 157.7 C50.38 157.8 48.08 158 46.5 158.2 C44.92 158.4 43.45 158.6 42.3 158.9 C41.15 159.2 40.27 159.53 39.6 160 C38.93 160.47 38.25 160.88 38.3 161.7Z" fill="#0000ee"/>
<path d="M40.9 161.73 C40.94 162.33 41.44 163.54 42.08 164.09 C42.73 164.65 43.77 164.87 44.75 165.06 C45.72 165.24 46.82 165.33 47.93 165.2 C49.04 165.08 50.27 164.76 51.41 164.32 C52.54 163.87 53.6 163.27 54.74 162.54 C55.87 161.81 57.97 160.52 58.22 159.95 C58.46 159.38 57.04 159.35 56.22 159.14 C55.39 158.93 54.15 158.75 53.26 158.69 C52.37 158.63 51.94 158.69 50.89 158.77 C49.84 158.84 48.14 158.99 46.97 159.14 C45.8 159.28 44.71 159.43 43.86 159.65 C43.01 159.88 42.36 160.12 41.86 160.47 C41.37 160.81 40.86 161.12 40.9 161.73Z" fill="#0058ff"/>
<path d="M43.1 161.75 C43.13 162.17 43.48 163.02 43.93 163.41 C44.38 163.8 45.12 163.96 45.8 164.09 C46.49 164.22 47.26 164.28 48.04 164.19 C48.82 164.11 49.69 163.88 50.48 163.57 C51.28 163.26 52.03 162.83 52.82 162.32 C53.62 161.81 55.09 160.9 55.27 160.5 C55.44 160.1 54.44 160.08 53.86 159.93 C53.28 159.78 52.41 159.66 51.78 159.62 C51.16 159.57 50.86 159.62 50.12 159.67 C49.38 159.72 48.19 159.82 47.36 159.93 C46.54 160.03 45.78 160.14 45.18 160.29 C44.58 160.45 44.12 160.62 43.78 160.86 C43.43 161.11 43.07 161.32 43.1 161.75Z" fill="#0ac4f8"/>
</g>
<line x1="35" y1="168.6" x2="62" y2="168.6" stroke="#aaa" stroke-width="0.6" stroke-dasharray="0.6 0.6"/>
<rect x="32.4" y="131.4" width="32.8" height="24.2" fill="none" stroke="#777" stroke-width="0.55"/>
<rect x="30.4" y="155.6" width="39.2" height="12.2" fill="none" stroke="#777" stroke-width="0.55"/>
<text x="57.9" y="131.36" font-size="6.0" text-anchor="middle" fill="#2a2a2a" stroke="#2a2a2a" stroke-width="0.12" >86.6%</text>
<text x="62" y="168.36" font-size="6.0" text-anchor="middle" fill="#2a2a2a" stroke="#2a2a2a" stroke-width="0.12" >13.1%</text>
<path d="M7.6 180.6 V154.6 M7.6 180.6 H30.5" stroke="#111" stroke-width="0.8" fill="none"/>
<path d="M6.1 155.4 L7.6 152.6 L9.1 155.4 Z" fill="#111"/>
<path d="M29.6 179.1 L32.4 180.6 L29.6 182.1 Z" fill="#111"/>
<text x="33.6" y="182.83" font-size="6.2" text-anchor="start" fill="#1a1a1a" stroke="#1a1a1a" stroke-width="0.12" >FSC</text>
<text transform="translate(7.7,143.7) rotate(-90)" y="2.09" font-size="5.8" text-anchor="middle" fill="#1a1a1a" stroke="#1a1a1a" stroke-width="0.08">GFP</text>
<text x="46.7" y="197.32" font-size="5.6" text-anchor="middle" fill="#222" stroke="#222" stroke-width="0.05" >IBtk&#947; S87A-IRES-GFP</text>
<rect x="18.8" y="199.4" width="53.2" height="53" fill="none" stroke="#7a7a7a" stroke-width="0.7"/>
<path d="M18.8 199.4 V252.4 H72" fill="none" stroke="#505050" stroke-width="0.75"/>
<line x1="17.8" y1="252.4" x2="18.8" y2="252.4" stroke="#666" stroke-width="0.45" />
<text x="17.3" y="253.5" font-size="3.0" fill="#333" text-anchor="end">10<tspan font-size="2.1" dy="-1.4">0</tspan></text>
<line x1="17.8" y1="239.15" x2="18.8" y2="239.15" stroke="#666" stroke-width="0.45" />
<text x="17.3" y="240.25" font-size="3.0" fill="#333" text-anchor="end">10<tspan font-size="2.1" dy="-1.4">1</tspan></text>
<line x1="17.8" y1="225.9" x2="18.8" y2="225.9" stroke="#666" stroke-width="0.45" />
<text x="17.3" y="227" font-size="3.0" fill="#333" text-anchor="end">10<tspan font-size="2.1" dy="-1.4">2</tspan></text>
<line x1="17.8" y1="212.65" x2="18.8" y2="212.65" stroke="#666" stroke-width="0.45" />
<text x="17.3" y="213.75" font-size="3.0" fill="#333" text-anchor="end">10<tspan font-size="2.1" dy="-1.4">3</tspan></text>
<line x1="17.8" y1="199.4" x2="18.8" y2="199.4" stroke="#666" stroke-width="0.45" />
<text x="17.3" y="200.5" font-size="3.0" fill="#333" text-anchor="end">10<tspan font-size="2.1" dy="-1.4">4</tspan></text>
<line x1="19.6" y1="252.4" x2="19.6" y2="253.4" stroke="#666" stroke-width="0.45" />
<text x="19.6" y="257.6" font-size="2.6" fill="#444" text-anchor="middle">0</text>
<line x1="29.88" y1="252.4" x2="29.88" y2="253.4" stroke="#666" stroke-width="0.45" />
<text x="29.88" y="257.6" font-size="2.6" fill="#444" text-anchor="middle">200</text>
<line x1="40.16" y1="252.4" x2="40.16" y2="253.4" stroke="#666" stroke-width="0.45" />
<text x="40.16" y="257.6" font-size="2.6" fill="#444" text-anchor="middle">400</text>
<line x1="50.44" y1="252.4" x2="50.44" y2="253.4" stroke="#666" stroke-width="0.45" />
<text x="50.44" y="257.6" font-size="2.6" fill="#444" text-anchor="middle">600</text>
<line x1="60.72" y1="252.4" x2="60.72" y2="253.4" stroke="#666" stroke-width="0.45" />
<text x="60.72" y="257.6" font-size="2.6" fill="#444" text-anchor="middle">800</text>
<line x1="71" y1="252.4" x2="71" y2="253.4" stroke="#666" stroke-width="0.45" />
<text x="71" y="257.6" font-size="2.6" fill="#444" text-anchor="middle">1000</text>
<g filter="url(#bl)">
<path d="M38.5 235.5 L51 236.5 L50.5 241.5 L39.5 242.8Z" fill="#0000ee"/>
<path d="M36 231.4 C36.18 230.55 36.45 229.68 37.1 228.7 C37.75 227.72 38.77 226.5 39.9 225.5 C41.03 224.5 42.45 223.38 43.9 222.7 C45.35 222.02 46.88 221.67 48.6 221.4 C50.32 221.13 52.35 221.02 54.2 221.1 C56.05 221.18 58.18 221.5 59.7 221.9 C61.22 222.3 62.52 222.9 63.3 223.5 C64.08 224.1 64.35 224.63 64.4 225.5 C64.45 226.37 64.12 227.65 63.6 228.7 C63.08 229.75 62.22 230.75 61.3 231.8 C60.38 232.85 59.28 234.07 58.1 235 C56.92 235.93 55.65 236.82 54.2 237.4 C52.75 237.98 51.12 238.25 49.4 238.5 C47.68 238.75 45.55 238.95 43.9 238.9 C42.25 238.85 40.7 238.72 39.5 238.2 C38.3 237.68 37.28 236.53 36.7 235.8 C36.12 235.07 36.12 234.53 36 233.8 C35.88 233.07 35.82 232.25 36 231.4Z" fill="#0000ee"/>
<path d="M38.12 231.11 C38.27 230.41 38.49 229.7 39.03 228.9 C39.56 228.09 40.39 227.09 41.32 226.27 C42.25 225.45 43.41 224.54 44.6 223.98 C45.79 223.42 47.05 223.13 48.46 222.91 C49.86 222.69 51.53 222.6 53.05 222.67 C54.56 222.73 56.31 222.99 57.56 223.32 C58.8 223.65 59.87 224.14 60.51 224.63 C61.15 225.13 61.37 225.56 61.41 226.27 C61.45 226.98 61.18 228.04 60.76 228.9 C60.33 229.76 59.62 230.58 58.87 231.44 C58.12 232.3 57.22 233.3 56.25 234.06 C55.28 234.83 54.24 235.55 53.05 236.03 C51.86 236.51 50.52 236.73 49.11 236.93 C47.7 237.14 45.95 237.3 44.6 237.26 C43.25 237.22 41.98 237.11 40.99 236.69 C40.01 236.26 39.18 235.32 38.7 234.72 C38.22 234.12 38.22 233.68 38.12 233.08 C38.03 232.48 37.97 231.81 38.12 231.11Z" fill="#0058ff"/>
<path d="M39.3 230.95 C39.44 230.34 39.63 229.72 40.1 229.01 C40.56 228.3 41.3 227.42 42.11 226.7 C42.93 225.98 43.95 225.18 44.99 224.69 C46.04 224.2 47.14 223.94 48.38 223.75 C49.61 223.56 51.08 223.48 52.41 223.54 C53.74 223.6 55.28 223.82 56.37 224.11 C57.46 224.4 58.4 224.83 58.96 225.26 C59.52 225.7 59.72 226.08 59.75 226.7 C59.79 227.33 59.55 228.25 59.18 229.01 C58.8 229.76 58.18 230.48 57.52 231.24 C56.86 232 56.07 232.87 55.22 233.54 C54.36 234.22 53.45 234.85 52.41 235.27 C51.36 235.69 50.19 235.88 48.95 236.06 C47.72 236.24 46.18 236.39 44.99 236.35 C43.8 236.32 42.69 236.22 41.82 235.85 C40.96 235.48 40.23 234.65 39.81 234.12 C39.39 233.59 39.39 233.21 39.3 232.68 C39.22 232.15 39.17 231.56 39.3 230.95Z" fill="#0ac4f8"/>
<path d="M41.66 230.63 C41.76 230.19 41.9 229.74 42.24 229.23 C42.57 228.72 43.1 228.08 43.69 227.56 C44.28 227.04 45.02 226.46 45.77 226.11 C46.53 225.75 47.32 225.57 48.22 225.43 C49.11 225.29 50.17 225.23 51.13 225.28 C52.09 225.32 53.2 225.48 53.99 225.69 C54.78 225.9 55.45 226.21 55.86 226.52 C56.27 226.84 56.41 227.11 56.43 227.56 C56.46 228.01 56.28 228.68 56.02 229.23 C55.75 229.77 55.3 230.29 54.82 230.84 C54.34 231.39 53.77 232.02 53.16 232.5 C52.54 232.99 51.88 233.45 51.13 233.75 C50.37 234.06 49.52 234.19 48.63 234.32 C47.74 234.45 46.63 234.56 45.77 234.53 C44.91 234.51 44.11 234.44 43.48 234.17 C42.86 233.9 42.33 233.3 42.03 232.92 C41.72 232.54 41.72 232.26 41.66 231.88 C41.6 231.5 41.57 231.07 41.66 230.63Z" fill="#44e040"/>
<path d="M43.91 230.33 C43.97 230.05 44.05 229.76 44.27 229.44 C44.48 229.11 44.82 228.71 45.19 228.38 C45.57 228.05 46.03 227.68 46.51 227.46 C46.99 227.23 47.5 227.12 48.06 227.03 C48.63 226.94 49.3 226.9 49.91 226.93 C50.52 226.96 51.23 227.06 51.73 227.19 C52.23 227.33 52.66 227.52 52.91 227.72 C53.17 227.92 53.26 228.09 53.28 228.38 C53.29 228.67 53.18 229.09 53.01 229.44 C52.84 229.78 52.56 230.11 52.25 230.46 C51.95 230.81 51.59 231.21 51.2 231.52 C50.81 231.82 50.39 232.12 49.91 232.31 C49.43 232.5 48.89 232.59 48.33 232.67 C47.76 232.75 47.06 232.82 46.51 232.8 C45.97 232.79 45.46 232.74 45.06 232.57 C44.66 232.4 44.33 232.02 44.14 231.78 C43.94 231.54 43.94 231.36 43.91 231.12 C43.87 230.88 43.85 230.61 43.91 230.33Z" fill="#f4ec00"/>
<path d="M45.44 230.12 C45.48 229.95 45.53 229.78 45.66 229.58 C45.79 229.38 45.99 229.14 46.22 228.94 C46.45 228.74 46.73 228.52 47.02 228.38 C47.31 228.24 47.62 228.17 47.96 228.12 C48.3 228.07 48.71 228.04 49.08 228.06 C49.45 228.08 49.88 228.14 50.18 228.22 C50.48 228.3 50.74 228.42 50.9 228.54 C51.06 228.66 51.11 228.77 51.12 228.94 C51.13 229.11 51.06 229.37 50.96 229.58 C50.86 229.79 50.68 229.99 50.5 230.2 C50.32 230.41 50.1 230.65 49.86 230.84 C49.62 231.03 49.37 231.2 49.08 231.32 C48.79 231.44 48.46 231.49 48.12 231.54 C47.78 231.59 47.35 231.63 47.02 231.62 C46.69 231.61 46.38 231.58 46.14 231.48 C45.9 231.38 45.7 231.15 45.58 231 C45.46 230.85 45.46 230.75 45.44 230.6 C45.42 230.45 45.4 230.29 45.44 230.12Z" fill="#fa2000"/>
<path d="M37.5 245.3 C37.63 245.9 38.03 246.78 39.1 247.3 C40.17 247.82 42.05 248.28 43.9 248.4 C45.75 248.52 48.23 248.32 50.2 248 C52.17 247.68 53.98 247.15 55.7 246.5 C57.42 245.85 59.5 244.83 60.5 244.1 C61.5 243.37 62.1 242.63 61.7 242.1 C61.3 241.57 59.62 241.17 58.1 240.9 C56.58 240.63 54.58 240.5 52.6 240.5 C50.62 240.5 48.18 240.63 46.2 240.9 C44.22 241.17 42.02 241.63 40.7 242.1 C39.38 242.57 38.83 243.17 38.3 243.7 C37.77 244.23 37.37 244.7 37.5 245.3Z" fill="#0000ee"/>
<path d="M39.94 245.12 C40.05 245.59 40.36 246.28 41.19 246.68 C42.02 247.09 43.49 247.45 44.93 247.54 C46.38 247.63 48.31 247.48 49.85 247.23 C51.38 246.98 52.8 246.57 54.14 246.06 C55.48 245.55 57.1 244.76 57.88 244.19 C58.66 243.62 59.13 243.04 58.82 242.63 C58.51 242.21 57.19 241.9 56.01 241.69 C54.83 241.48 53.27 241.38 51.72 241.38 C50.17 241.38 48.27 241.48 46.73 241.69 C45.18 241.9 43.47 242.26 42.44 242.63 C41.41 242.99 40.98 243.46 40.57 243.88 C40.15 244.29 39.84 244.66 39.94 245.12Z" fill="#0058ff"/>
<path d="M41.94 244.98 C42.02 245.34 42.26 245.87 42.9 246.18 C43.54 246.49 44.67 246.77 45.78 246.84 C46.89 246.91 48.38 246.79 49.56 246.6 C50.74 246.41 51.83 246.09 52.86 245.7 C53.89 245.31 55.14 244.7 55.74 244.26 C56.34 243.82 56.7 243.38 56.46 243.06 C56.22 242.74 55.21 242.5 54.3 242.34 C53.39 242.18 52.19 242.1 51 242.1 C49.81 242.1 48.35 242.18 47.16 242.34 C45.97 242.5 44.65 242.78 43.86 243.06 C43.07 243.34 42.74 243.7 42.42 244.02 C42.1 244.34 41.86 244.62 41.94 244.98Z" fill="#0ac4f8"/>
<path d="M44.6 244.79 C44.65 245 44.8 245.32 45.18 245.51 C45.56 245.69 46.24 245.86 46.91 245.9 C47.57 245.95 48.47 245.87 49.18 245.76 C49.88 245.65 50.54 245.45 51.16 245.22 C51.77 244.99 52.52 244.62 52.88 244.36 C53.24 244.09 53.46 243.83 53.32 243.64 C53.17 243.44 52.57 243.3 52.02 243.2 C51.47 243.11 50.75 243.06 50.04 243.06 C49.33 243.06 48.45 243.11 47.74 243.2 C47.02 243.3 46.23 243.47 45.76 243.64 C45.28 243.8 45.08 244.02 44.89 244.21 C44.7 244.4 44.56 244.57 44.6 244.79Z" fill="#44e040"/>
</g>
<line x1="35" y1="251.8" x2="62" y2="251.8" stroke="#aaa" stroke-width="0.6" stroke-dasharray="0.6 0.6"/>
<rect x="33.3" y="214.4" width="31.9" height="24.1" fill="none" stroke="#777" stroke-width="0.55"/>
<rect x="30.4" y="238.5" width="39.2" height="12.1" fill="none" stroke="#777" stroke-width="0.55"/>
<text x="58.4" y="214.06" font-size="6.0" text-anchor="middle" fill="#2a2a2a" stroke="#2a2a2a" stroke-width="0.12" >84.0%</text>
<text x="62.2" y="251.36" font-size="6.0" text-anchor="middle" fill="#2a2a2a" stroke="#2a2a2a" stroke-width="0.12" >15.6%</text>
<path d="M7.6 264.3 V239.4 M7.6 264.3 H30.5" stroke="#111" stroke-width="0.8" fill="none"/>
<path d="M6.1 240.2 L7.6 237.4 L9.1 240.2 Z" fill="#111"/>
<path d="M29.6 262.8 L32.4 264.3 L29.6 265.8 Z" fill="#111"/>
<text x="33.6" y="266.53" font-size="6.2" text-anchor="start" fill="#1a1a1a" stroke="#1a1a1a" stroke-width="0.12" >FSC</text>
<text transform="translate(7.7,228.5) rotate(-90)" y="2.09" font-size="5.8" text-anchor="middle" fill="#1a1a1a" stroke="#1a1a1a" stroke-width="0.08">GFP</text>
<text x="46.7" y="282.02" font-size="5.6" text-anchor="middle" fill="#222" stroke="#222" stroke-width="0.05" >IBtk&#947; S90A-IRES-GFP</text>
<rect x="18.8" y="284.3" width="53.2" height="53.1" fill="none" stroke="#7a7a7a" stroke-width="0.7"/>
<path d="M18.8 284.3 V337.4 H72" fill="none" stroke="#505050" stroke-width="0.75"/>
<line x1="17.8" y1="337.4" x2="18.8" y2="337.4" stroke="#666" stroke-width="0.45" />
<text x="17.3" y="338.5" font-size="3.0" fill="#333" text-anchor="end">10<tspan font-size="2.1" dy="-1.4">0</tspan></text>
<line x1="17.8" y1="324.12" x2="18.8" y2="324.12" stroke="#666" stroke-width="0.45" />
<text x="17.3" y="325.23" font-size="3.0" fill="#333" text-anchor="end">10<tspan font-size="2.1" dy="-1.4">1</tspan></text>
<line x1="17.8" y1="310.85" x2="18.8" y2="310.85" stroke="#666" stroke-width="0.45" />
<text x="17.3" y="311.95" font-size="3.0" fill="#333" text-anchor="end">10<tspan font-size="2.1" dy="-1.4">2</tspan></text>
<line x1="17.8" y1="297.57" x2="18.8" y2="297.57" stroke="#666" stroke-width="0.45" />
<text x="17.3" y="298.68" font-size="3.0" fill="#333" text-anchor="end">10<tspan font-size="2.1" dy="-1.4">3</tspan></text>
<line x1="17.8" y1="284.3" x2="18.8" y2="284.3" stroke="#666" stroke-width="0.45" />
<text x="17.3" y="285.4" font-size="3.0" fill="#333" text-anchor="end">10<tspan font-size="2.1" dy="-1.4">4</tspan></text>
<line x1="19.6" y1="337.4" x2="19.6" y2="338.4" stroke="#666" stroke-width="0.45" />
<text x="19.6" y="342.6" font-size="2.6" fill="#444" text-anchor="middle">0</text>
<line x1="29.88" y1="337.4" x2="29.88" y2="338.4" stroke="#666" stroke-width="0.45" />
<text x="29.88" y="342.6" font-size="2.6" fill="#444" text-anchor="middle">200</text>
<line x1="40.16" y1="337.4" x2="40.16" y2="338.4" stroke="#666" stroke-width="0.45" />
<text x="40.16" y="342.6" font-size="2.6" fill="#444" text-anchor="middle">400</text>
<line x1="50.44" y1="337.4" x2="50.44" y2="338.4" stroke="#666" stroke-width="0.45" />
<text x="50.44" y="342.6" font-size="2.6" fill="#444" text-anchor="middle">600</text>
<line x1="60.72" y1="337.4" x2="60.72" y2="338.4" stroke="#666" stroke-width="0.45" />
<text x="60.72" y="342.6" font-size="2.6" fill="#444" text-anchor="middle">800</text>
<line x1="71" y1="337.4" x2="71" y2="338.4" stroke="#666" stroke-width="0.45" />
<text x="71" y="342.6" font-size="2.6" fill="#444" text-anchor="middle">1000</text>
<g filter="url(#bl)">
<path d="M39.5 321 L50 321.5 L49.5 327.5 L40.5 329Z" fill="#0000ee"/>
<path d="M36 317 C36.12 316.15 36.18 314.88 36.7 313.9 C37.22 312.92 38.03 312.03 39.1 311.1 C40.17 310.17 41.65 309.03 43.1 308.3 C44.55 307.57 46.08 307.02 47.8 306.7 C49.52 306.38 51.55 306.33 53.4 306.4 C55.25 306.47 57.25 306.72 58.9 307.1 C60.55 307.48 62.38 308.1 63.3 308.7 C64.22 309.3 64.35 309.9 64.4 310.7 C64.45 311.5 64.12 312.52 63.6 313.5 C63.08 314.48 62.28 315.55 61.3 316.6 C60.32 317.65 59.02 318.87 57.7 319.8 C56.38 320.73 54.92 321.53 53.4 322.2 C51.88 322.87 50.18 323.47 48.6 323.8 C47.02 324.13 45.35 324.27 43.9 324.2 C42.45 324.13 41.03 323.87 39.9 323.4 C38.77 322.93 37.75 322.13 37.1 321.4 C36.45 320.67 36.18 319.73 36 319 C35.82 318.27 35.88 317.85 36 317Z" fill="#0000ee"/>
<path d="M37.96 316.54 C38.05 315.86 38.11 314.85 38.52 314.06 C38.93 313.27 39.59 312.57 40.44 311.82 C41.29 311.07 42.48 310.17 43.64 309.58 C44.8 308.99 46.03 308.55 47.4 308.3 C48.77 308.05 50.4 308.01 51.88 308.06 C53.36 308.11 54.96 308.31 56.28 308.62 C57.6 308.93 59.07 309.42 59.8 309.9 C60.53 310.38 60.64 310.86 60.68 311.5 C60.72 312.14 60.45 312.95 60.04 313.74 C59.63 314.53 58.99 315.38 58.2 316.22 C57.41 317.06 56.37 318.03 55.32 318.78 C54.27 319.53 53.09 320.17 51.88 320.7 C50.67 321.23 49.31 321.71 48.04 321.98 C46.77 322.25 45.44 322.35 44.28 322.3 C43.12 322.25 41.99 322.03 41.08 321.66 C40.17 321.29 39.36 320.65 38.84 320.06 C38.32 319.47 38.11 318.73 37.96 318.14 C37.81 317.55 37.87 317.22 37.96 316.54Z" fill="#0058ff"/>
<path d="M38.94 316.31 C39.02 315.72 39.07 314.83 39.43 314.14 C39.79 313.45 40.36 312.83 41.11 312.18 C41.86 311.53 42.9 310.73 43.91 310.22 C44.93 309.71 46 309.32 47.2 309.1 C48.4 308.88 49.82 308.84 51.12 308.89 C52.41 308.94 53.81 309.11 54.97 309.38 C56.12 309.65 57.41 310.08 58.05 310.5 C58.69 310.92 58.78 311.34 58.82 311.9 C58.86 312.46 58.62 313.17 58.26 313.86 C57.9 314.55 57.34 315.3 56.65 316.03 C55.96 316.77 55.05 317.62 54.13 318.27 C53.21 318.92 52.18 319.48 51.12 319.95 C50.06 320.42 48.87 320.84 47.76 321.07 C46.65 321.3 45.48 321.4 44.47 321.35 C43.45 321.3 42.46 321.12 41.67 320.79 C40.88 320.46 40.16 319.9 39.71 319.39 C39.26 318.88 39.07 318.22 38.94 317.71 C38.81 317.2 38.86 316.9 38.94 316.31Z" fill="#0ac4f8"/>
<path d="M41.29 315.76 C41.35 315.37 41.38 314.78 41.61 314.33 C41.85 313.88 42.23 313.47 42.72 313.04 C43.21 312.61 43.89 312.09 44.56 311.76 C45.23 311.42 45.93 311.17 46.72 311.02 C47.51 310.87 48.45 310.85 49.3 310.88 C50.15 310.91 51.07 311.03 51.83 311.2 C52.59 311.38 53.43 311.66 53.85 311.94 C54.27 312.22 54.33 312.49 54.36 312.86 C54.38 313.23 54.23 313.7 53.99 314.15 C53.75 314.6 53.38 315.09 52.93 315.57 C52.48 316.06 51.88 316.62 51.27 317.05 C50.67 317.48 49.99 317.84 49.3 318.15 C48.6 318.46 47.82 318.73 47.09 318.89 C46.36 319.04 45.59 319.1 44.93 319.07 C44.26 319.04 43.61 318.92 43.09 318.7 C42.56 318.49 42.1 318.12 41.8 317.78 C41.5 317.44 41.38 317.02 41.29 316.68 C41.21 316.34 41.24 316.15 41.29 315.76Z" fill="#44e040"/>
<path d="M42.96 315.37 C42.99 315.12 43.01 314.75 43.16 314.47 C43.31 314.18 43.55 313.93 43.86 313.66 C44.17 313.39 44.6 313.06 45.02 312.84 C45.44 312.63 45.88 312.47 46.38 312.38 C46.88 312.29 47.47 312.27 48 312.29 C48.54 312.31 49.12 312.38 49.6 312.5 C50.08 312.61 50.61 312.79 50.88 312.96 C51.14 313.13 51.18 313.31 51.19 313.54 C51.21 313.77 51.11 314.07 50.96 314.35 C50.81 314.64 50.58 314.95 50.29 315.25 C50.01 315.56 49.63 315.91 49.25 316.18 C48.87 316.45 48.44 316.68 48 316.88 C47.56 317.07 47.07 317.24 46.61 317.34 C46.15 317.44 45.67 317.47 45.25 317.45 C44.83 317.44 44.42 317.36 44.09 317.22 C43.76 317.09 43.47 316.86 43.28 316.64 C43.09 316.43 43.01 316.16 42.96 315.95 C42.9 315.73 42.92 315.61 42.96 315.37Z" fill="#f4ec00"/>
<path d="M44.13 315.09 C44.15 314.95 44.17 314.73 44.25 314.56 C44.34 314.4 44.48 314.25 44.66 314.09 C44.84 313.93 45.09 313.74 45.34 313.61 C45.59 313.49 45.85 313.39 46.14 313.34 C46.43 313.29 46.78 313.28 47.09 313.29 C47.41 313.3 47.75 313.34 48.03 313.41 C48.31 313.47 48.62 313.58 48.77 313.68 C48.93 313.78 48.95 313.88 48.96 314.02 C48.97 314.16 48.91 314.33 48.83 314.5 C48.74 314.66 48.6 314.84 48.43 315.02 C48.27 315.2 48.05 315.41 47.82 315.57 C47.6 315.73 47.35 315.86 47.09 315.97 C46.83 316.09 46.55 316.19 46.28 316.25 C46.01 316.3 45.72 316.33 45.48 316.31 C45.23 316.3 44.99 316.26 44.8 316.18 C44.6 316.1 44.43 315.96 44.32 315.84 C44.21 315.71 44.17 315.56 44.13 315.43 C44.1 315.31 44.11 315.24 44.13 315.09Z" fill="#fa2000"/>
<path d="M38.3 330.1 C38.17 330.83 38.83 331.85 39.9 332.5 C40.97 333.15 42.98 333.82 44.7 334 C46.42 334.18 48.5 333.92 50.2 333.6 C51.9 333.28 53.32 332.75 54.9 332.1 C56.48 331.45 58.77 330.3 59.7 329.7 C60.63 329.1 61.03 328.9 60.5 328.5 C59.97 328.1 58.08 327.63 56.5 327.3 C54.92 326.97 52.85 326.57 51 326.5 C49.15 326.43 47.12 326.63 45.4 326.9 C43.68 327.17 41.88 327.57 40.7 328.1 C39.52 328.63 38.43 329.37 38.3 330.1Z" fill="#0000ee"/>
<path d="M40.25 330.41 C40.15 330.95 40.64 331.71 41.43 332.19 C42.22 332.67 43.72 333.16 44.99 333.3 C46.26 333.43 47.8 333.24 49.06 333 C50.31 332.77 51.36 332.37 52.53 331.89 C53.71 331.41 55.4 330.56 56.09 330.12 C56.78 329.67 57.07 329.52 56.68 329.23 C56.28 328.93 54.89 328.59 53.72 328.34 C52.55 328.09 51.02 327.8 49.65 327.75 C48.28 327.7 46.77 327.85 45.5 328.04 C44.23 328.24 42.9 328.54 42.03 328.93 C41.15 329.33 40.35 329.87 40.25 330.41Z" fill="#0058ff"/>
<path d="M42.05 330.7 C41.98 331.07 42.32 331.57 42.85 331.9 C43.38 332.22 44.39 332.56 45.25 332.65 C46.11 332.74 47.15 332.61 48 332.45 C48.85 332.29 49.56 332.03 50.35 331.7 C51.14 331.38 52.28 330.8 52.75 330.5 C53.22 330.2 53.42 330.1 53.15 329.9 C52.88 329.7 51.94 329.47 51.15 329.3 C50.36 329.13 49.33 328.93 48.4 328.9 C47.47 328.87 46.46 328.97 45.6 329.1 C44.74 329.23 43.84 329.43 43.25 329.7 C42.66 329.97 42.12 330.33 42.05 330.7Z" fill="#0ac4f8"/>
</g>
<line x1="35" y1="336.8" x2="62" y2="336.8" stroke="#aaa" stroke-width="0.6" stroke-dasharray="0.6 0.6"/>
<rect x="33.3" y="299.4" width="31.9" height="24.1" fill="none" stroke="#777" stroke-width="0.55"/>
<rect x="30.9" y="323.5" width="37.7" height="11.6" fill="none" stroke="#777" stroke-width="0.55"/>
<text x="58.8" y="299.06" font-size="6.0" text-anchor="middle" fill="#2a2a2a" stroke="#2a2a2a" stroke-width="0.12" >87.9%</text>
<text x="62" y="336.36" font-size="6.0" text-anchor="middle" fill="#2a2a2a" stroke="#2a2a2a" stroke-width="0.12" >11.7%</text>
<path d="M7.6 352.2 V326.6 M7.6 352.2 H30.5" stroke="#111" stroke-width="0.8" fill="none"/>
<path d="M6.1 327.4 L7.6 324.6 L9.1 327.4 Z" fill="#111"/>
<path d="M29.6 350.7 L32.4 352.2 L29.6 353.7 Z" fill="#111"/>
<text x="33.6" y="354.43" font-size="6.2" text-anchor="start" fill="#1a1a1a" stroke="#1a1a1a" stroke-width="0.12" >FSC</text>
<text transform="translate(7.7,315.7) rotate(-90)" y="2.09" font-size="5.8" text-anchor="middle" fill="#1a1a1a" stroke="#1a1a1a" stroke-width="0.08">GFP</text>
<text x="46.7" y="361.42" font-size="5.6" text-anchor="middle" fill="#222" stroke="#222" stroke-width="0.05" >IBtk&#947; S87/S90A-</text>
<text x="46.7" y="366.92" font-size="5.6" text-anchor="middle" fill="#222" stroke="#222" stroke-width="0.05" >-IRES-GFP</text>
<rect x="18.8" y="370" width="53.2" height="52" fill="none" stroke="#7a7a7a" stroke-width="0.7"/>
<path d="M18.8 370 V422 H72" fill="none" stroke="#505050" stroke-width="0.75"/>
<line x1="17.8" y1="422" x2="18.8" y2="422" stroke="#666" stroke-width="0.45" />
<text x="17.3" y="423.1" font-size="3.0" fill="#333" text-anchor="end">10<tspan font-size="2.1" dy="-1.4">0</tspan></text>
<line x1="17.8" y1="409" x2="18.8" y2="409" stroke="#666" stroke-width="0.45" />
<text x="17.3" y="410.1" font-size="3.0" fill="#333" text-anchor="end">10<tspan font-size="2.1" dy="-1.4">1</tspan></text>
<line x1="17.8" y1="396" x2="18.8" y2="396" stroke="#666" stroke-width="0.45" />
<text x="17.3" y="397.1" font-size="3.0" fill="#333" text-anchor="end">10<tspan font-size="2.1" dy="-1.4">2</tspan></text>
<line x1="17.8" y1="383" x2="18.8" y2="383" stroke="#666" stroke-width="0.45" />
<text x="17.3" y="384.1" font-size="3.0" fill="#333" text-anchor="end">10<tspan font-size="2.1" dy="-1.4">3</tspan></text>
<line x1="17.8" y1="370" x2="18.8" y2="370" stroke="#666" stroke-width="0.45" />
<text x="17.3" y="371.1" font-size="3.0" fill="#333" text-anchor="end">10<tspan font-size="2.1" dy="-1.4">4</tspan></text>
<line x1="19.6" y1="422" x2="19.6" y2="423" stroke="#666" stroke-width="0.45" />
<text x="19.6" y="427.2" font-size="2.6" fill="#444" text-anchor="middle">0</text>
<line x1="29.88" y1="422" x2="29.88" y2="423" stroke="#666" stroke-width="0.45" />
<text x="29.88" y="427.2" font-size="2.6" fill="#444" text-anchor="middle">200</text>
<line x1="40.16" y1="422" x2="40.16" y2="423" stroke="#666" stroke-width="0.45" />
<text x="40.16" y="427.2" font-size="2.6" fill="#444" text-anchor="middle">400</text>
<line x1="50.44" y1="422" x2="50.44" y2="423" stroke="#666" stroke-width="0.45" />
<text x="50.44" y="427.2" font-size="2.6" fill="#444" text-anchor="middle">600</text>
<line x1="60.72" y1="422" x2="60.72" y2="423" stroke="#666" stroke-width="0.45" />
<text x="60.72" y="427.2" font-size="2.6" fill="#444" text-anchor="middle">800</text>
<line x1="71" y1="422" x2="71" y2="423" stroke="#666" stroke-width="0.45" />
<text x="71" y="427.2" font-size="2.6" fill="#444" text-anchor="middle">1000</text>
<g filter="url(#bl)">
<path d="M36.5 404 L54.5 404 L55.3 409 L36.5 410.5Z" fill="#0000ee"/>
<path d="M35.6 399.8 C35.67 398.62 35.95 397.15 36.4 395.9 C36.85 394.65 37.45 393.37 38.3 392.3 C39.15 391.23 40.18 390.22 41.5 389.5 C42.82 388.78 44.48 388.32 46.2 388 C47.92 387.68 49.95 387.48 51.8 387.6 C53.65 387.72 55.78 388.12 57.3 388.7 C58.82 389.28 60.1 390.23 60.9 391.1 C61.7 391.97 61.97 392.97 62.1 393.9 C62.23 394.83 62.03 395.72 61.7 396.7 C61.37 397.68 60.83 398.82 60.1 399.8 C59.37 400.78 58.2 401.73 57.3 402.6 C56.4 403.47 55.92 404.3 54.7 405 C53.48 405.7 51.78 406.43 50 406.8 C48.22 407.17 45.92 407.25 44 407.2 C42.08 407.15 39.83 407.2 38.5 406.5 C37.17 405.8 36.48 404.12 36 403 C35.52 401.88 35.53 400.98 35.6 399.8Z" fill="#0000ee"/>
<path d="M37.36 399.58 C37.42 398.61 37.65 397.41 38.02 396.39 C38.39 395.36 38.88 394.31 39.58 393.43 C40.27 392.56 41.12 391.73 42.2 391.14 C43.28 390.55 44.65 390.17 46.06 389.91 C47.46 389.65 49.13 389.48 50.65 389.58 C52.16 389.68 53.91 390 55.16 390.48 C56.4 390.96 57.45 391.74 58.11 392.45 C58.77 393.16 58.98 393.98 59.09 394.75 C59.2 395.51 59.04 396.24 58.77 397.04 C58.49 397.85 58.06 398.78 57.45 399.58 C56.85 400.39 55.9 401.17 55.16 401.88 C54.42 402.59 54.02 403.27 53.03 403.85 C52.03 404.42 50.63 405.02 49.17 405.32 C47.71 405.62 45.82 405.69 44.25 405.65 C42.68 405.61 40.84 405.65 39.74 405.08 C38.65 404.5 38.09 403.12 37.69 402.21 C37.3 401.29 37.31 400.55 37.36 399.58Z" fill="#0058ff"/>
<path d="M38.44 399.45 C38.49 398.61 38.69 397.57 39.01 396.68 C39.33 395.8 39.76 394.88 40.36 394.13 C40.96 393.37 41.7 392.65 42.63 392.14 C43.57 391.63 44.75 391.3 45.97 391.07 C47.19 390.85 48.63 390.71 49.94 390.79 C51.26 390.87 52.77 391.16 53.85 391.57 C54.93 391.99 55.84 392.66 56.41 393.28 C56.97 393.89 57.16 394.6 57.26 395.26 C57.35 395.93 57.21 396.55 56.97 397.25 C56.74 397.95 56.36 398.75 55.84 399.45 C55.32 400.15 54.49 400.82 53.85 401.44 C53.21 402.06 52.87 402.65 52 403.14 C51.14 403.64 49.93 404.16 48.67 404.42 C47.4 404.68 45.77 404.74 44.41 404.71 C43.05 404.67 41.45 404.71 40.5 404.21 C39.55 403.71 39.07 402.52 38.73 401.72 C38.38 400.93 38.39 400.29 38.44 399.45Z" fill="#0ac4f8"/>
<path d="M40.3 399.22 C40.34 398.61 40.49 397.85 40.72 397.2 C40.95 396.55 41.27 395.88 41.71 395.32 C42.15 394.77 42.69 394.24 43.37 393.87 C44.06 393.5 44.92 393.25 45.82 393.09 C46.71 392.92 47.77 392.82 48.73 392.88 C49.69 392.94 50.8 393.15 51.59 393.45 C52.38 393.76 53.04 394.25 53.46 394.7 C53.88 395.15 54.01 395.67 54.08 396.16 C54.15 396.64 54.05 397.1 53.88 397.61 C53.7 398.12 53.43 398.71 53.04 399.22 C52.66 399.74 52.06 400.23 51.59 400.68 C51.12 401.13 50.87 401.56 50.24 401.93 C49.6 402.29 48.72 402.67 47.79 402.86 C46.86 403.05 45.67 403.1 44.67 403.07 C43.68 403.05 42.51 403.07 41.81 402.71 C41.12 402.34 40.76 401.47 40.51 400.89 C40.26 400.31 40.27 399.84 40.3 399.22Z" fill="#44e040"/>
<path d="M36.4 410.5 C37.2 409.85 38.57 409.37 40 409 C41.43 408.63 43.33 408.42 45 408.3 C46.67 408.18 48.28 408.22 50 408.3 C51.72 408.38 53.82 408.43 55.3 408.8 C56.78 409.17 58.03 410.02 58.9 410.5 C59.77 410.98 60.63 411.17 60.5 411.7 C60.37 412.23 59.28 412.98 58.1 413.7 C56.92 414.42 55.12 415.35 53.4 416 C51.68 416.65 49.65 417.27 47.8 417.6 C45.95 417.93 43.88 418.07 42.3 418 C40.72 417.93 39.35 417.65 38.3 417.2 C37.25 416.75 36.52 416.02 36 415.3 C35.48 414.58 35.13 413.7 35.2 412.9 C35.27 412.1 35.6 411.15 36.4 410.5Z" fill="#0000ee"/>
<path d="M38.28 411.06 C38.92 410.54 40.01 410.15 41.16 409.86 C42.31 409.57 43.83 409.39 45.16 409.3 C46.49 409.21 47.79 409.23 49.16 409.3 C50.53 409.37 52.21 409.41 53.4 409.7 C54.59 409.99 55.59 410.67 56.28 411.06 C56.97 411.45 57.67 411.59 57.56 412.02 C57.45 412.45 56.59 413.05 55.64 413.62 C54.69 414.19 53.25 414.94 51.88 415.46 C50.51 415.98 48.88 416.47 47.4 416.74 C45.92 417.01 44.27 417.11 43 417.06 C41.73 417.01 40.64 416.78 39.8 416.42 C38.96 416.06 38.37 415.47 37.96 414.9 C37.55 414.33 37.27 413.62 37.32 412.98 C37.37 412.34 37.64 411.58 38.28 411.06Z" fill="#0058ff"/>
<path d="M39.6 411.45 C40.12 411.02 41.03 410.7 41.97 410.46 C42.92 410.22 44.17 410.08 45.27 410 C46.37 409.92 47.44 409.94 48.57 410 C49.71 410.06 51.09 410.09 52.07 410.33 C53.05 410.57 53.87 411.13 54.45 411.45 C55.02 411.77 55.59 411.89 55.5 412.24 C55.41 412.6 54.7 413.09 53.92 413.56 C53.14 414.04 51.95 414.65 50.82 415.08 C49.68 415.51 48.34 415.92 47.12 416.14 C45.9 416.36 44.53 416.45 43.49 416.4 C42.44 416.36 41.54 416.17 40.85 415.87 C40.16 415.58 39.67 415.09 39.33 414.62 C38.99 414.15 38.76 413.56 38.8 413.04 C38.85 412.51 39.07 411.88 39.6 411.45Z" fill="#0ac4f8"/>
<path d="M41.66 412.07 C42.02 411.78 42.62 411.57 43.25 411.41 C43.88 411.25 44.71 411.15 45.45 411.1 C46.18 411.05 46.89 411.06 47.65 411.1 C48.4 411.14 49.33 411.16 49.98 411.32 C50.63 411.48 51.18 411.86 51.56 412.07 C51.95 412.28 52.33 412.36 52.27 412.6 C52.21 412.83 51.73 413.16 51.21 413.48 C50.69 413.79 49.9 414.2 49.14 414.49 C48.39 414.77 47.49 415.05 46.68 415.19 C45.87 415.34 44.96 415.4 44.26 415.37 C43.56 415.34 42.96 415.21 42.5 415.02 C42.04 414.82 41.72 414.5 41.49 414.18 C41.26 413.86 41.11 413.48 41.14 413.12 C41.17 412.77 41.31 412.35 41.66 412.07Z" fill="#44e040"/>
<path d="M43.92 412.74 C44.08 412.61 44.35 412.51 44.64 412.44 C44.93 412.37 45.31 412.32 45.64 412.3 C45.97 412.28 46.3 412.28 46.64 412.3 C46.98 412.32 47.4 412.33 47.7 412.4 C48 412.47 48.25 412.64 48.42 412.74 C48.59 412.84 48.77 412.87 48.74 412.98 C48.71 413.09 48.5 413.24 48.26 413.38 C48.02 413.52 47.66 413.71 47.32 413.84 C46.98 413.97 46.57 414.09 46.2 414.16 C45.83 414.23 45.42 414.25 45.1 414.24 C44.78 414.23 44.51 414.17 44.3 414.08 C44.09 413.99 43.94 413.84 43.84 413.7 C43.74 413.56 43.67 413.38 43.68 413.22 C43.69 413.06 43.76 412.87 43.92 412.74Z" fill="#f4ec00"/>
<path d="M44.86 413.02 C44.94 412.95 45.08 412.91 45.22 412.87 C45.36 412.83 45.55 412.81 45.72 412.8 C45.89 412.79 46.05 412.79 46.22 412.8 C46.39 412.81 46.6 412.81 46.75 412.85 C46.9 412.89 47.02 412.97 47.11 413.02 C47.2 413.07 47.28 413.09 47.27 413.14 C47.26 413.19 47.15 413.27 47.03 413.34 C46.91 413.41 46.73 413.5 46.56 413.57 C46.39 413.63 46.19 413.7 46 413.73 C45.81 413.76 45.61 413.78 45.45 413.77 C45.29 413.76 45.15 413.74 45.05 413.69 C44.95 413.64 44.87 413.57 44.82 413.5 C44.77 413.43 44.73 413.34 44.74 413.26 C44.75 413.18 44.78 413.08 44.86 413.02Z" fill="#fa2000"/>
<path d="M47.8 394.3 L41.1 402.7 L49.7 402.4 Z" fill="#f4ec00"/><path d="M47.6 395.6 L42.2 401.9 L48.7 401.6 Z" fill="#fa2000"/>
</g>
<line x1="35" y1="421.4" x2="62" y2="421.4" stroke="#aaa" stroke-width="0.6" stroke-dasharray="0.6 0.6"/>
<rect x="33.3" y="384.8" width="33.4" height="23.2" fill="none" stroke="#777" stroke-width="0.55"/>
<rect x="31.9" y="408" width="37.7" height="12.6" fill="none" stroke="#777" stroke-width="0.55"/>
<text x="58.6" y="384.66" font-size="6.0" text-anchor="middle" fill="#2a2a2a" stroke="#2a2a2a" stroke-width="0.12" >69.4%</text>
<text x="62" y="421.36" font-size="6.0" text-anchor="middle" fill="#2a2a2a" stroke="#2a2a2a" stroke-width="0.12" >30.1%</text>
<path d="M7.6 434.2 V408.6 M7.6 434.2 H30.5" stroke="#111" stroke-width="0.8" fill="none"/>
<path d="M6.1 409.4 L7.6 406.6 L9.1 409.4 Z" fill="#111"/>
<path d="M29.6 432.7 L32.4 434.2 L29.6 435.7 Z" fill="#111"/>
<text x="33.6" y="436.43" font-size="6.2" text-anchor="start" fill="#1a1a1a" stroke="#1a1a1a" stroke-width="0.12" >FSC</text>
<text transform="translate(7.7,397.7) rotate(-90)" y="2.09" font-size="5.8" text-anchor="middle" fill="#1a1a1a" stroke="#1a1a1a" stroke-width="0.08">GFP</text>
<text x="302.9" y="12.73" font-size="11.2" text-anchor="start" fill="#111" font-weight="bold">B</text>
<text x="386" y="17.16" font-size="6.0" text-anchor="middle" fill="#1a1a1a" stroke="#1a1a1a" stroke-width="0.12" >anti-IgM (20 &#181;g/ml)</text>
<line x1="335.5" y1="20.2" x2="335.5" y2="83.6" stroke="#555" stroke-width="0.65" />
<line x1="335.5" y1="83.6" x2="442" y2="83.6" stroke="#555" stroke-width="0.65" />
<line x1="334.3" y1="83.5" x2="335.5" y2="83.5" stroke="#555" stroke-width="0.5" />
<text x="331.5" y="85.59" font-size="5.8" text-anchor="end" fill="#1a1a1a" stroke="#1a1a1a" stroke-width="0.12" >0.5</text>
<line x1="334.3" y1="67.8" x2="335.5" y2="67.8" stroke="#555" stroke-width="0.5" />
<text x="331.5" y="69.89" font-size="5.8" text-anchor="end" fill="#1a1a1a" stroke="#1a1a1a" stroke-width="0.12" >1.0</text>
<line x1="334.3" y1="52.1" x2="335.5" y2="52.1" stroke="#555" stroke-width="0.5" />
<text x="331.5" y="54.19" font-size="5.8" text-anchor="end" fill="#1a1a1a" stroke="#1a1a1a" stroke-width="0.12" >1.5</text>
<line x1="334.3" y1="36.4" x2="335.5" y2="36.4" stroke="#555" stroke-width="0.5" />
<text x="331.5" y="38.49" font-size="5.8" text-anchor="end" fill="#1a1a1a" stroke="#1a1a1a" stroke-width="0.12" >2.0</text>
<line x1="334.3" y1="20.7" x2="335.5" y2="20.7" stroke="#555" stroke-width="0.5" />
<text x="331.5" y="22.79" font-size="5.8" text-anchor="end" fill="#1a1a1a" stroke="#1a1a1a" stroke-width="0.12" >2.5</text>
<line x1="353.04" y1="83.6" x2="353.04" y2="84.8" stroke="#555" stroke-width="0.5" />
<text x="353.04" y="91.24" font-size="5.4" text-anchor="middle" fill="#1a1a1a" stroke="#1a1a1a" stroke-width="0.12" >30</text>
<line x1="370.27" y1="83.6" x2="370.27" y2="84.8" stroke="#555" stroke-width="0.5" />
<text x="370.27" y="91.24" font-size="5.4" text-anchor="middle" fill="#1a1a1a" stroke="#1a1a1a" stroke-width="0.12" >60</text>
<line x1="387.5" y1="83.6" x2="387.5" y2="84.8" stroke="#555" stroke-width="0.5" />
<text x="387.5" y="91.24" font-size="5.4" text-anchor="middle" fill="#1a1a1a" stroke="#1a1a1a" stroke-width="0.12" >90</text>
<line x1="404.74" y1="83.6" x2="404.74" y2="84.8" stroke="#555" stroke-width="0.5" />
<text x="404.74" y="91.24" font-size="5.4" text-anchor="middle" fill="#1a1a1a" stroke="#1a1a1a" stroke-width="0.12" >120</text>
<line x1="421.98" y1="83.6" x2="421.98" y2="84.8" stroke="#555" stroke-width="0.5" />
<text x="421.98" y="91.24" font-size="5.4" text-anchor="middle" fill="#1a1a1a" stroke="#1a1a1a" stroke-width="0.12" >150</text>
<line x1="439.21" y1="83.6" x2="439.21" y2="84.8" stroke="#555" stroke-width="0.5" />
<text x="439.21" y="91.24" font-size="5.4" text-anchor="middle" fill="#1a1a1a" stroke="#1a1a1a" stroke-width="0.12" >180</text>
<text x="396.8" y="99.48" font-size="5.5" text-anchor="middle" fill="#1a1a1a" stroke="#1a1a1a" stroke-width="0.12" >Time (sec)</text>
<text transform="translate(311.3,49.6) rotate(-90)" y="1.98" font-size="5.5" text-anchor="middle" fill="#1a1a1a" stroke="#1a1a1a" stroke-width="0.12">Rhod-2 relative</text>
<text transform="translate(317.4,50.2) rotate(-90)" y="1.98" font-size="5.5" text-anchor="middle" fill="#1a1a1a" stroke="#1a1a1a" stroke-width="0.12">Fluorescence</text>
<polyline points="335.8,68.55 336.95,68.3 338.1,68.59 339.25,68.35 340.4,68.09 341.55,68.1 342.69,68.12 343.84,68.32 344.99,68.15 346.14,68.07 347.29,67.88 348.44,67.92 349.59,67.53 350.74,66.6 351.89,65.96 353.04,64.56 354.18,63.39 355.33,62.41 356.48,61.11 357.63,59.66 358.78,59.3 359.93,58.12 361.08,57.56 362.23,56.68 363.38,56.56 364.53,56.94 365.67,57.38 366.82,57.29 367.97,57.51 369.12,57.64 370.27,58.05 371.42,58.27 372.57,58.47 373.72,58.99 374.87,59.38 376.01,59.35 377.16,60.1 378.31,60.04 379.46,60.43 380.61,60.38 381.76,60.95 382.91,60.57 384.06,61.12 385.21,61.45 386.36,61.45 387.5,61.51 388.65,61.89 389.8,61.77 390.95,61.9 392.1,61.87 393.25,62.24 394.4,62.45 395.55,62.63 396.7,62.47 397.85,62.5 399,62.92 400.14,63.27 401.29,63.05 402.44,63.47 403.59,63.73 404.74,63.94 405.89,63.69 407.04,63.82 408.19,64.08 409.34,64.34 410.49,64.43 411.63,64.79 412.78,64.48 413.93,65.01 415.08,64.98 416.23,65.01 417.38,65.16 418.53,65.52 419.68,65.77 420.83,65.75 421.98,66.15 423.12,65.84 424.27,66.27 425.42,66.09 426.57,66.59 427.72,66.64 428.87,66.85 430.02,66.86 431.17,67.14 432.32,67.37 433.47,67.04 434.61,67.44 435.76,67.59 436.91,67.68 438.06,67.69 439.21,67.84" fill="none" stroke="#b448c8" stroke-width="1.0" stroke-linejoin="round" stroke-linecap="round" />
<polyline points="335.8,68.34 336.95,68.25 338.1,68.38 339.25,67.97 340.4,67.96 341.55,68.38 342.69,67.8 343.84,67.62 344.99,67.49 346.14,67.34 347.29,66.02 348.44,63.48 349.59,59.18 350.74,54.32 351.89,50.04 353.04,46.81 354.18,46.01 355.33,46.81 356.48,47.99 357.63,49.13 358.78,49.87 359.93,51.34 361.08,52.72 362.23,53.49 363.38,54.75 364.53,56.2 365.67,56.63 366.82,57.45 367.97,57.86 369.12,58.39 370.27,58.67 371.42,59.13 372.57,59.44 373.72,60.17 374.87,60.16 376.01,60.54 377.16,60.67 378.31,61.12 379.46,61.09 380.61,61.54 381.76,61.95 382.91,62.19 384.06,62.47 385.21,62.45 386.36,62.92 387.5,62.86 388.65,63.24 389.8,63.21 390.95,63.38 392.1,63.52 393.25,63.48 394.4,64.18 395.55,63.82 396.7,64.21 397.85,64.31 399,64.4 400.14,64.45 401.29,64.89 402.44,65.02 403.59,64.83 404.74,65.53 405.89,65.33 407.04,65.47 408.19,65.99 409.34,65.77 410.49,65.86 411.63,65.84 412.78,66.35 413.93,66.07 415.08,66.49 416.23,66.63 417.38,66.48 418.53,67.14 419.68,66.82 420.83,66.99 421.98,67.27 423.12,67.04 424.27,67.45 425.42,67.47 426.57,67.53 427.72,67.46 428.87,67.89 430.02,67.83 431.17,67.92 432.32,67.92 433.47,67.82 434.61,68.24 435.76,67.98 436.91,68.33 438.06,68.34 439.21,68.57" fill="none" stroke="#4ccc4c" stroke-width="1.0" stroke-linejoin="round" stroke-linecap="round" />
<polyline points="335.8,68.42 336.95,68.06 338.1,68.2 339.25,68.06 340.4,68.28 341.55,68.22 342.69,68.13 343.84,67.82 344.99,67.58 346.14,66.93 347.29,66.52 348.44,63.63 349.59,59.32 350.74,55.27 351.89,52.52 353.04,49.5 354.18,47.86 355.33,47.77 356.48,48.12 357.63,49.43 358.78,50.43 359.93,51.26 361.08,52.17 362.23,53.35 363.38,54.31 364.53,55.18 365.67,55.88 366.82,56.51 367.97,56.91 369.12,57.63 370.27,57.72 371.42,58.2 372.57,58.33 373.72,59.04 374.87,59.27 376.01,59.62 377.16,59.41 378.31,59.57 379.46,59.97 380.61,60.39 381.76,60.33 382.91,60.56 384.06,60.91 385.21,61.31 386.36,61.47 387.5,61.59 388.65,61.83 389.8,61.94 390.95,61.99 392.1,61.97 393.25,62.69 394.4,62.54 395.55,63.04 396.7,63.15 397.85,62.88 399,63.19 400.14,63.14 401.29,63.6 402.44,64.04 403.59,63.97 404.74,64 405.89,63.94 407.04,64.08 408.19,64.55 409.34,64.75 410.49,65.09 411.63,64.91 412.78,65.33 413.93,65.51 415.08,65.74 416.23,65.89 417.38,65.6 418.53,66.08 419.68,65.69 420.83,66.36 421.98,66 423.12,66.58 424.27,66.77 425.42,66.44 426.57,66.85 427.72,66.65 428.87,67.09 430.02,67.28 431.17,66.93 432.32,67.06 433.47,67.07 434.61,67.25 435.76,67.76 436.91,67.51 438.06,67.57 439.21,67.82" fill="none" stroke="#3a3ad8" stroke-width="1.0" stroke-linejoin="round" stroke-linecap="round" />
<polyline points="335.8,68.16 336.95,68.51 338.1,68 339.25,68.1 340.4,68.49 341.55,68.41 342.69,67.91 343.84,67.68 344.99,67.93 346.14,67.25 347.29,66.09 348.44,63.22 349.59,57.15 350.74,52.11 351.89,48.01 353.04,44.01 354.18,41.7 355.33,40.23 356.48,39.43 357.63,40.4 358.78,41.52 359.93,43.65 361.08,45.1 362.23,46.45 363.38,47.93 364.53,49.24 365.67,50.14 366.82,51.01 367.97,51.97 369.12,52.92 370.27,53.87 371.42,54.74 372.57,54.85 373.72,55.66 374.87,56.18 376.01,57.03 377.16,57.35 378.31,57.56 379.46,58.05 380.61,58.54 381.76,59.04 382.91,59.24 384.06,59.21 385.21,59.77 386.36,59.81 387.5,60.1 388.65,60.15 389.8,60.45 390.95,61.04 392.1,61.51 393.25,61.67 394.4,61.96 395.55,62.31 396.7,62.65 397.85,63.08 399,64.01 400.14,63.82 401.29,64.07 402.44,64.25 403.59,64.64 404.74,65.02 405.89,64.84 407.04,65.04 408.19,65.28 409.34,65.29 410.49,65.79 411.63,66.09 412.78,65.93 413.93,65.9 415.08,66.39 416.23,66.16 417.38,66.16 418.53,66.71 419.68,66.58 420.83,66.64 421.98,66.88 423.12,67.15 424.27,67.21 425.42,66.99 426.57,67.06 427.72,67.35 428.87,67.67 430.02,67.3 431.17,67.4 432.32,67.81 433.47,67.67 434.61,67.55 435.76,67.63 436.91,67.94 438.06,68.05 439.21,68.06" fill="none" stroke="#e8484c" stroke-width="1.0" stroke-linejoin="round" stroke-linecap="round" />
<polyline points="335.8,68.62 336.95,68.55 338.1,68.49 339.25,68.11 340.4,68.26 341.55,68.06 342.69,68.07 343.84,67.87 344.99,67.89 346.14,67.42 347.29,65.92 348.44,62.65 349.59,56.4 350.74,50.45 351.89,46.36 353.04,43.18 354.18,40.16 355.33,38.53 356.48,36.89 357.63,36.12 358.78,35.75 359.93,35.41 361.08,36.06 362.23,37.07 363.38,37.83 364.53,38.75 365.67,39.08 366.82,39.99 367.97,40.38 369.12,41.21 370.27,41.88 371.42,42.48 372.57,43.58 373.72,44.32 374.87,44.75 376.01,45.25 377.16,45.78 378.31,46.25 379.46,46.36 380.61,46.57 381.76,47.21 382.91,47.28 384.06,47.67 385.21,48.55 386.36,48.56 387.5,49.02 388.65,49.53 389.8,49.34 390.95,50.1 392.1,50.23 393.25,50.49 394.4,50.59 395.55,51.06 396.7,51.5 397.85,51.71 399,52.11 400.14,51.81 401.29,51.97 402.44,52.62 403.59,52.89 404.74,52.9 405.89,52.98 407.04,52.77 408.19,52.89 409.34,53.06 410.49,53.67 411.63,53.32 412.78,53.49 413.93,53.65 415.08,53.56 416.23,54.26 417.38,54.33 418.53,54.07 419.68,54.08 420.83,54.36 421.98,54.72 423.12,54.65 424.27,54.66 425.42,55.19 426.57,55.17 427.72,55.33" fill="none" stroke="#262626" stroke-width="1.0" stroke-linejoin="round" stroke-linecap="round" />
<line x1="444.3" y1="20.6" x2="449.4" y2="20.6" stroke="#3a5a4a" stroke-width="1.0" />
<text x="450.6" y="22.62" font-size="5.6" text-anchor="start" fill="#1a1a1a" stroke="#1a1a1a" stroke-width="0.12" >Empty-IRES-GFP</text>
<line x1="444.3" y1="27.35" x2="449.4" y2="27.35" stroke="#e88888" stroke-width="1.0" />
<text x="450.6" y="29.37" font-size="5.6" text-anchor="start" fill="#1a1a1a" stroke="#1a1a1a" stroke-width="0.12" >IBtk&#947;-IRES-GFP</text>
<line x1="444.3" y1="34.1" x2="449.4" y2="34.1" stroke="#3838c8" stroke-width="1.0" />
<text x="450.6" y="36.12" font-size="5.6" text-anchor="start" fill="#1a1a1a" stroke="#1a1a1a" stroke-width="0.12" >IBtk&#947; S90A-IRES-GFP</text>
<line x1="444.3" y1="40.85" x2="449.4" y2="40.85" stroke="#66dd66" stroke-width="1.0" />
<text x="450.6" y="42.87" font-size="5.6" text-anchor="start" fill="#1a1a1a" stroke="#1a1a1a" stroke-width="0.12" >IBtk&#947; S87A-IRES-GFP</text>
<line x1="444.3" y1="47.6" x2="449.4" y2="47.6" stroke="#d060d0" stroke-width="1.0" />
<text x="450.6" y="49.62" font-size="5.6" text-anchor="start" fill="#1a1a1a" stroke="#1a1a1a" stroke-width="0.12" >IBtk&#947; S90S87A-IRES-GFP</text>
<text x="386" y="124.09" font-size="5.8" text-anchor="middle" fill="#1a1a1a" stroke="#1a1a1a" stroke-width="0.12" >Ionomycin (1 &#181;M)</text>
<line x1="335.5" y1="131.3" x2="335.5" y2="198.3" stroke="#555" stroke-width="0.65" />
<line x1="335.5" y1="198.3" x2="442" y2="198.3" stroke="#555" stroke-width="0.65" />
<line x1="334.3" y1="186.9" x2="335.5" y2="186.9" stroke="#555" stroke-width="0.5" />
<text x="332" y="188.99" font-size="5.8" text-anchor="end" fill="#1a1a1a" stroke="#1a1a1a" stroke-width="0.12" >1.0</text>
<line x1="334.3" y1="164.5" x2="335.5" y2="164.5" stroke="#555" stroke-width="0.5" />
<text x="332" y="166.59" font-size="5.8" text-anchor="end" fill="#1a1a1a" stroke="#1a1a1a" stroke-width="0.12" >2.0</text>
<line x1="334.3" y1="142.1" x2="335.5" y2="142.1" stroke="#555" stroke-width="0.5" />
<text x="332" y="144.19" font-size="5.8" text-anchor="end" fill="#1a1a1a" stroke="#1a1a1a" stroke-width="0.12" >3.0</text>
<line x1="353.04" y1="198.3" x2="353.04" y2="199.5" stroke="#555" stroke-width="0.5" />
<text x="353.04" y="204.94" font-size="5.4" text-anchor="middle" fill="#1a1a1a" stroke="#1a1a1a" stroke-width="0.12" >30</text>
<line x1="370.27" y1="198.3" x2="370.27" y2="199.5" stroke="#555" stroke-width="0.5" />
<text x="370.27" y="204.94" font-size="5.4" text-anchor="middle" fill="#1a1a1a" stroke="#1a1a1a" stroke-width="0.12" >60</text>
<line x1="387.5" y1="198.3" x2="387.5" y2="199.5" stroke="#555" stroke-width="0.5" />
<text x="387.5" y="204.94" font-size="5.4" text-anchor="middle" fill="#1a1a1a" stroke="#1a1a1a" stroke-width="0.12" >90</text>
<line x1="404.74" y1="198.3" x2="404.74" y2="199.5" stroke="#555" stroke-width="0.5" />
<text x="404.74" y="204.94" font-size="5.4" text-anchor="middle" fill="#1a1a1a" stroke="#1a1a1a" stroke-width="0.12" >120</text>
<line x1="421.98" y1="198.3" x2="421.98" y2="199.5" stroke="#555" stroke-width="0.5" />
<text x="421.98" y="204.94" font-size="5.4" text-anchor="middle" fill="#1a1a1a" stroke="#1a1a1a" stroke-width="0.12" >150</text>
<line x1="439.21" y1="198.3" x2="439.21" y2="199.5" stroke="#555" stroke-width="0.5" />
<text x="439.21" y="204.94" font-size="5.4" text-anchor="middle" fill="#1a1a1a" stroke="#1a1a1a" stroke-width="0.12" >180</text>
<text x="396.8" y="213.58" font-size="5.5" text-anchor="middle" fill="#1a1a1a" stroke="#1a1a1a" stroke-width="0.12" >Time (sec)</text>
<text transform="translate(312,164) rotate(-90)" y="1.98" font-size="5.5" text-anchor="middle" fill="#1a1a1a" stroke="#1a1a1a" stroke-width="0.12">Rhod-2 relative</text>
<text transform="translate(318.8,164.5) rotate(-90)" y="1.98" font-size="5.5" text-anchor="middle" fill="#1a1a1a" stroke="#1a1a1a" stroke-width="0.12">Fluorescence</text>
<polyline points="335.8,187.74 336.95,186.94 338.1,187.64 339.25,187.49 340.4,187.7 341.55,185.13 342.69,173.76 343.84,155.05 344.99,147.26 346.14,145.22 347.29,141.83 348.44,141.91 349.59,138.81 350.74,138.44 351.89,138.13 353.04,139.6 354.18,138.74 355.33,139.4 356.48,137.45 357.63,137.57 358.78,138 359.93,138.36 361.08,138.58 362.23,137.46 363.38,138.21 364.53,137.84 365.67,138.91 366.82,138.71 367.97,139.07 369.12,137.59 370.27,137.95 371.42,138.86 372.57,137.24 373.72,138.6 374.87,138.28 376.01,138.87 377.16,138.62 378.31,137.36 379.46,138.51 380.61,138.9 381.76,138.19 382.91,138.6 384.06,137.31 385.21,139.1 386.36,137.19 387.5,139.28 388.65,137.45 389.8,138.03 390.95,139.16 392.1,138.69 393.25,139.27 394.4,139.5 395.55,139.82 396.7,139.65 397.85,138.46 399,138.66 400.14,139.05 401.29,141.12 402.44,140.92 403.59,139.78 404.74,141.87 405.89,140.57 407.04,141.75 408.19,140.44 409.34,142.82 410.49,141.28 411.63,142.56 412.78,143.25 413.93,143.81 415.08,142.21 416.23,143.16 417.38,144.23 418.53,144.05 419.68,143.39 420.83,145.35 421.98,144.93 423.12,146.21 424.27,146.32 425.42,145.08 426.57,145.21 427.72,146.35 428.87,146.59 430.02,146.55 431.17,145.35 432.32,145.58 433.47,146.04 434.61,146.17 435.76,145.23" fill="none" stroke="#4ccc4c" stroke-width="0.9" stroke-linejoin="round" stroke-linecap="round" />
<polyline points="335.8,186.43 336.95,186.2 338.1,186.71 339.25,187.57 340.4,187.87 341.55,185.01 342.69,172.8 343.84,155.04 344.99,148.25 346.14,144.18 347.29,143.84 348.44,141.19 349.59,139.63 350.74,139.95 351.89,140.76 353.04,138.54 354.18,139.35 355.33,138.34 356.48,139.6 357.63,139.72 358.78,138.22 359.93,139.22 361.08,139.64 362.23,139.14 363.38,138.61 364.53,139.91 365.67,138.74 366.82,138.88 367.97,138.72 369.12,139.59 370.27,138.26 371.42,138.03 372.57,137.93 373.72,139.15 374.87,138.28 376.01,139.03 377.16,138.22 378.31,139.78 379.46,137.97 380.61,137.81 381.76,138.86 382.91,138.84 384.06,138.82 385.21,138.83 386.36,140.01 387.5,137.92 388.65,139.63 389.8,139.79 390.95,140.08 392.1,139.87 393.25,138.75 394.4,140.69 395.55,140.72 396.7,139.57 397.85,140.91 399,141.53 400.14,140.45 401.29,140.72 402.44,141.07 403.59,140.88 404.74,142.44 405.89,140.93 407.04,141.48 408.19,143.2 409.34,143.25 410.49,142.65 411.63,142.87 412.78,143.61 413.93,144.22 415.08,143.84 416.23,144.71 417.38,144 418.53,143.77 419.68,145.78 420.83,145.23 421.98,145.21 423.12,146.82 424.27,145.55 425.42,145.38 426.57,146.6 427.72,146.52 428.87,145.56 430.02,146.24 431.17,146.5 432.32,145.25 433.47,145.59 434.61,146.54 435.76,146.73" fill="none" stroke="#e8484c" stroke-width="0.9" stroke-linejoin="round" stroke-linecap="round" />
<polyline points="335.8,187.27 336.95,187.04 338.1,185.82 339.25,186.22 340.4,185.98 341.55,184.82 342.69,171.77 343.84,156.54 344.99,147.66 346.14,144.31 347.29,142.95 348.44,142.96 349.59,141.07 350.74,140.08 351.89,140.42 353.04,139.84 354.18,140.71 355.33,139.77 356.48,139.52 357.63,140.53 358.78,140.22 359.93,138.32 361.08,138.72 362.23,138.33 363.38,138.98 364.53,138.56 365.67,138.37 366.82,138.35 367.97,140.24 369.12,138.87 370.27,139.71 371.42,138.79 372.57,139.7 373.72,139.1 374.87,138.26 376.01,138.94 377.16,139.79 378.31,139.2 379.46,139.41 380.61,138.26 381.76,139.77 382.91,139.75 384.06,139.01 385.21,140.21 386.36,139.17 387.5,138.39 388.65,139.43 389.8,140.05 390.95,139.71 392.1,139.69 393.25,140.7 394.4,140.92 395.55,141.09 396.7,140.93 397.85,140.89 399,141.37 400.14,141.69 401.29,142.27 402.44,141.46 403.59,141.02 404.74,141.75 405.89,142.04 407.04,142.07 408.19,143.3 409.34,142.38 410.49,143.17 411.63,143.21 412.78,143.31 413.93,143.89 415.08,144.5 416.23,144.92 417.38,145.27 418.53,145 419.68,145.7 420.83,145.65 421.98,147.31 423.12,146.85 424.27,145.92 425.42,147.39 426.57,146.67 427.72,146.81 428.87,147.25 430.02,145.65 431.17,147.18 432.32,146.08 433.47,147.42 434.61,147.6 435.76,145.77" fill="none" stroke="#3a3ad8" stroke-width="0.9" stroke-linejoin="round" stroke-linecap="round" />
<polyline points="335.8,187.03 336.95,187.88 338.1,187.15 339.25,187.03 340.4,186.37 341.55,186.41 342.69,173.1 343.84,154.51 344.99,147.84 346.14,146.81 347.29,144.96 348.44,143.4 349.59,141.18 350.74,140.79 351.89,140.01 353.04,139.86 354.18,140.38 355.33,139.76 356.48,139.65 357.63,139.55 358.78,140.14 359.93,139.41 361.08,139.54 362.23,139.05 363.38,140.78 364.53,139.09 365.67,141.01 366.82,139.29 367.97,139.68 369.12,139.87 370.27,138.82 371.42,139.7 372.57,140.05 373.72,139.23 374.87,139.04 376.01,139.65 377.16,140.17 378.31,140.02 379.46,140.02 380.61,139.45 381.76,140.43 382.91,140.23 384.06,139.88 385.21,140.29 386.36,140.46 387.5,139.44 388.65,139.34 389.8,140.2 390.95,140.43 392.1,141.14 393.25,141.02 394.4,141.55 395.55,140.77 396.7,140.96 397.85,142.27 399,140.63 400.14,142.19 401.29,141.25 402.44,141.48 403.59,141.43 404.74,143.33 405.89,143.04 407.04,142.16 408.19,144.4 409.34,144.54 410.49,143.61 411.63,144 412.78,143.3 413.93,143.88 415.08,144.66 416.23,143.9 417.38,145.28 418.53,145.66 419.68,145.69 420.83,146.76 421.98,147.2 423.12,146.98 424.27,147.73 425.42,146.47 426.57,147.08 427.72,147.4 428.87,148.34 430.02,147.7 431.17,147.61 432.32,147.22 433.47,147.16 434.61,146.45 435.76,146.23" fill="none" stroke="#b448c8" stroke-width="0.9" stroke-linejoin="round" stroke-linecap="round" />
<polyline points="335.8,186.93 336.95,187.03 338.1,186.62 339.25,185.79 340.4,187.25 341.55,185.46 342.69,171.72 343.84,156.28 344.99,149.23 346.14,145.43 347.29,144.32 348.44,143.49 349.59,142.89 350.74,140.62 351.89,140.81 353.04,140.31 354.18,139.77 355.33,139.87 356.48,140.82 357.63,141.35 358.78,141 359.93,140.47 361.08,140.45 362.23,141.12 363.38,141.11 364.53,140.08 365.67,140.12 366.82,140.66 367.97,139.21 369.12,140 370.27,141.33 371.42,140.51 372.57,139.67 373.72,140.75 374.87,139.9 376.01,141.45 377.16,140.79 378.31,139.59 379.46,140.18 380.61,140.02 381.76,141.09 382.91,140.44 384.06,140.34 385.21,141 386.36,140.18 387.5,140.46 388.65,139.46 389.8,140.48 390.95,140.95 392.1,141.73 393.25,141.8 394.4,140.62 395.55,142.27 396.7,142.48 397.85,142.54 399,141.97 400.14,141.51 401.29,142.21 402.44,142 403.59,143.89 404.74,144.21 405.89,142.72 407.04,143.93 408.19,143.27 409.34,144.3 410.49,144.94 411.63,144.96 412.78,145.58 413.93,144.03 415.08,145.01 416.23,145.8 417.38,145.88 418.53,146.4 419.68,147.55 420.83,146.09 421.98,147.15 423.12,146.61 424.27,147.98 425.42,147.65 426.57,148.48 427.72,148.93 428.87,146.92 430.02,147.07 431.17,148.25 432.32,146.91 433.47,147.07 434.61,148.19 435.76,147.49" fill="none" stroke="#262626" stroke-width="0.9" stroke-linejoin="round" stroke-linecap="round" />
<line x1="444.3" y1="131.6" x2="449.4" y2="131.6" stroke="#3a5a4a" stroke-width="1.0" />
<text x="450.6" y="133.62" font-size="5.6" text-anchor="start" fill="#1a1a1a" stroke="#1a1a1a" stroke-width="0.12" >Empty-IRES-GFP</text>
<line x1="444.3" y1="138.35" x2="449.4" y2="138.35" stroke="#e88888" stroke-width="1.0" />
<text x="450.6" y="140.37" font-size="5.6" text-anchor="start" fill="#1a1a1a" stroke="#1a1a1a" stroke-width="0.12" >IBtk&#947;-IRES-GFP</text>
<line x1="444.3" y1="145.1" x2="449.4" y2="145.1" stroke="#3838c8" stroke-width="1.0" />
<text x="450.6" y="147.12" font-size="5.6" text-anchor="start" fill="#1a1a1a" stroke="#1a1a1a" stroke-width="0.12" >IBtk&#947; S90A-IRES-GFP</text>
<line x1="444.3" y1="151.85" x2="449.4" y2="151.85" stroke="#66dd66" stroke-width="1.0" />
<text x="450.6" y="153.87" font-size="5.6" text-anchor="start" fill="#1a1a1a" stroke="#1a1a1a" stroke-width="0.12" >IBtk&#947; S87A-IRES-GFP</text>
<line x1="444.3" y1="158.6" x2="449.4" y2="158.6" stroke="#d060d0" stroke-width="1.0" />
<text x="450.6" y="160.62" font-size="5.6" text-anchor="start" fill="#1a1a1a" stroke="#1a1a1a" stroke-width="0.12" >IBtk&#947; S90S87A-IRES-GFP</text>
<text x="320.3" y="327.23" font-size="11.2" text-anchor="start" fill="#111" font-weight="bold">C</text>
<line x1="351.3" y1="331.5" x2="351.3" y2="415.9" stroke="#555" stroke-width="0.65" />
<line x1="351.3" y1="415.9" x2="468" y2="415.9" stroke="#555" stroke-width="0.65" />
<line x1="350.1" y1="415.9" x2="351.3" y2="415.9" stroke="#555" stroke-width="0.5" />
<text x="349.3" y="417.84" font-size="5.4" text-anchor="end" fill="#1a1a1a" stroke="#1a1a1a" stroke-width="0.12" >0</text>
<line x1="350.1" y1="401.98" x2="351.3" y2="401.98" stroke="#555" stroke-width="0.5" />
<text x="349.3" y="403.92" font-size="5.4" text-anchor="end" fill="#1a1a1a" stroke="#1a1a1a" stroke-width="0.12" >2</text>
<line x1="350.1" y1="388.06" x2="351.3" y2="388.06" stroke="#555" stroke-width="0.5" />
<text x="349.3" y="390" font-size="5.4" text-anchor="end" fill="#1a1a1a" stroke="#1a1a1a" stroke-width="0.12" >4</text>
<line x1="350.1" y1="374.14" x2="351.3" y2="374.14" stroke="#555" stroke-width="0.5" />
<text x="349.3" y="376.08" font-size="5.4" text-anchor="end" fill="#1a1a1a" stroke="#1a1a1a" stroke-width="0.12" >6</text>
<line x1="350.1" y1="360.22" x2="351.3" y2="360.22" stroke="#555" stroke-width="0.5" />
<text x="349.3" y="362.16" font-size="5.4" text-anchor="end" fill="#1a1a1a" stroke="#1a1a1a" stroke-width="0.12" >8</text>
<line x1="350.1" y1="346.3" x2="351.3" y2="346.3" stroke="#555" stroke-width="0.5" />
<text x="349.3" y="348.24" font-size="5.4" text-anchor="end" fill="#1a1a1a" stroke="#1a1a1a" stroke-width="0.12" >10</text>
<line x1="350.1" y1="332.38" x2="351.3" y2="332.38" stroke="#555" stroke-width="0.5" />
<text x="349.3" y="334.32" font-size="5.4" text-anchor="end" fill="#1a1a1a" stroke="#1a1a1a" stroke-width="0.12" >12</text>
<text transform="translate(331.1,372) rotate(-90)" y="2.02" font-size="5.6" text-anchor="middle" fill="#1a1a1a" stroke="#1a1a1a" stroke-width="0.12">Normalized Luciferase Activity</text>
<text transform="translate(339.8,372.4) rotate(-90)" y="2.05" font-size="5.7" text-anchor="middle" fill="#1a1a1a" stroke="#1a1a1a" stroke-width="0.12">(Arbitrary Units)</text>
<rect x="356.3" y="407.83" width="6.6" height="8.07" fill="#1010ee"/>
<rect x="362.9" y="351.1" width="6.6" height="64.8" fill="#e8282e"/>
<line x1="366.2" y1="351.1" x2="366.2" y2="346.58" stroke="#e8282e" stroke-width="0.6" />
<line x1="365.2" y1="346.58" x2="367.2" y2="346.58" stroke="#e8282e" stroke-width="0.6" />
<text transform="translate(366.5,421) rotate(-54)" font-size="5.7" text-anchor="end" fill="#1a1a1a" stroke="#1a1a1a" stroke-width="0.12">Empty vector</text>
<rect x="379.6" y="409.98" width="6.6" height="5.92" fill="#1010ee"/>
<rect x="386.2" y="368.71" width="6.6" height="47.19" fill="#e8282e"/>
<line x1="389.5" y1="368.71" x2="389.5" y2="366.07" stroke="#e8282e" stroke-width="0.6" />
<line x1="388.5" y1="366.07" x2="390.5" y2="366.07" stroke="#e8282e" stroke-width="0.6" />
<text x="389.5" y="363.75" font-size="5.8" text-anchor="middle" fill="#1a1a1a" stroke="#1a1a1a" stroke-width="0.12" font-style="italic">P=0.0007</text>
<text transform="translate(386.8,421) rotate(-54)" font-size="5.7" text-anchor="end" fill="#1a1a1a" stroke="#1a1a1a" stroke-width="0.12">IBtk&#947; WT</text>
<rect x="403.1" y="411.17" width="6.6" height="4.73" fill="#1010ee"/>
<rect x="409.7" y="385.83" width="6.6" height="30.07" fill="#e8282e"/>
<line x1="413" y1="385.83" x2="413" y2="383.12" stroke="#e8282e" stroke-width="0.6" />
<line x1="412" y1="383.12" x2="414" y2="383.12" stroke="#e8282e" stroke-width="0.6" />
<text x="413" y="380.81" font-size="5.8" text-anchor="middle" fill="#1a1a1a" stroke="#1a1a1a" stroke-width="0.12" font-style="italic">P=0.0001</text>
<text transform="translate(410.3,421) rotate(-54)" font-size="5.7" text-anchor="end" fill="#1a1a1a" stroke="#1a1a1a" stroke-width="0.12">IBtk&#947; S87A</text>
<rect x="426.3" y="410.61" width="6.6" height="5.29" fill="#1010ee"/>
<rect x="432.9" y="376.51" width="6.6" height="39.39" fill="#e8282e"/>
<line x1="436.2" y1="376.51" x2="436.2" y2="373.24" stroke="#e8282e" stroke-width="0.6" />
<line x1="435.2" y1="373.24" x2="437.2" y2="373.24" stroke="#e8282e" stroke-width="0.6" />
<text x="436.2" y="370.92" font-size="5.8" text-anchor="middle" fill="#1a1a1a" stroke="#1a1a1a" stroke-width="0.12" font-style="italic">P=0.0006</text>
<text transform="translate(433.5,421) rotate(-54)" font-size="5.7" text-anchor="end" fill="#1a1a1a" stroke="#1a1a1a" stroke-width="0.12">IBtk&#947; 90A</text>
<rect x="449.6" y="411.38" width="6.6" height="4.52" fill="#1010ee"/>
<rect x="456.2" y="398.57" width="6.6" height="17.33" fill="#e8282e"/>
<line x1="459.5" y1="398.57" x2="459.5" y2="396.34" stroke="#e8282e" stroke-width="0.6" />
<line x1="458.5" y1="396.34" x2="460.5" y2="396.34" stroke="#e8282e" stroke-width="0.6" />
<text x="459.5" y="394.03" font-size="5.8" text-anchor="middle" fill="#1a1a1a" stroke="#1a1a1a" stroke-width="0.12" font-style="italic">P=0.00002</text>
<text transform="translate(456.8,421) rotate(-54)" font-size="5.7" text-anchor="end" fill="#1a1a1a" stroke="#1a1a1a" stroke-width="0.12">IBtk&#947; S87/S90A</text>
<rect x="439.5" y="340.5" width="8.6" height="5.0" fill="#1010ee"/>
<rect x="439.5" y="348.6" width="8.6" height="4.8" fill="#e8282e"/>
<text x="452" y="344.42" font-size="5.6" text-anchor="start" fill="#1a1a1a" stroke="#1a1a1a" stroke-width="0.12" >unstimulated</text>
<text x="452" y="352.92" font-size="5.6" text-anchor="start" fill="#1a1a1a" stroke="#1a1a1a" stroke-width="0.12" >anti-IgM</text>
</svg></body></html>
